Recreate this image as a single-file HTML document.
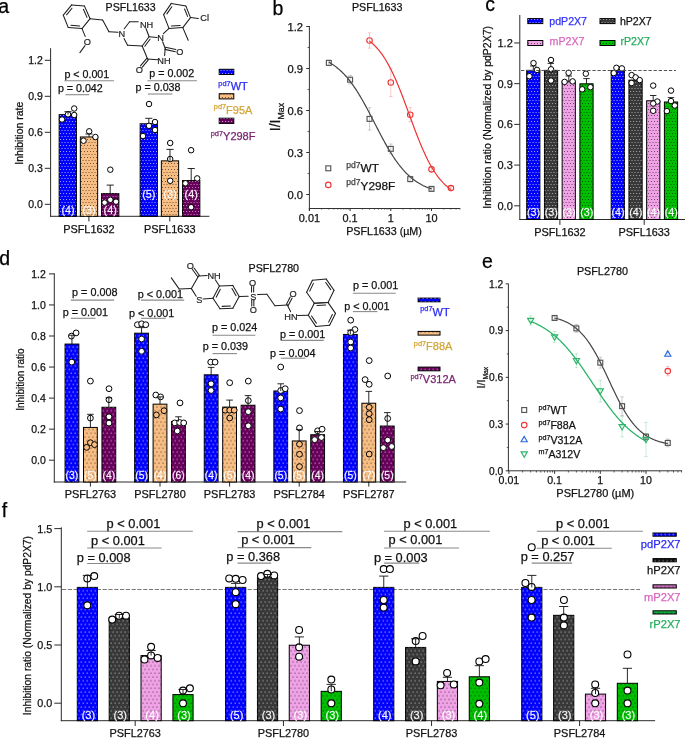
<!DOCTYPE html>
<html><head><meta charset="utf-8"><title>Figure</title>
<style>html,body{margin:0;padding:0;background:#fff;width:685px;height:738px;overflow:hidden}svg{display:block;will-change:transform}text{font-family:"Liberation Sans", sans-serif;paint-order:stroke}</style>
</head><body>
<svg width="685" height="738" viewBox="0 0 685 738" font-family='"Liberation Sans", sans-serif'>
<rect width="685" height="738" fill="#fff"/>
<defs>
<pattern id="pw" width="3" height="6" patternUnits="userSpaceOnUse"><rect x="0" y="1" width="1.1" height="1.0" fill="#fff" fill-opacity="0.6"/><rect x="1.5" y="4" width="1.1" height="1.0" fill="#fff" fill-opacity="0.6"/></pattern>
<pattern id="pw2" width="3" height="6" patternUnits="userSpaceOnUse"><rect x="0" y="1" width="1.1" height="1.0" fill="#e0e0e0" fill-opacity="0.6"/><rect x="1.5" y="4" width="1.1" height="1.0" fill="#e0e0e0" fill-opacity="0.6"/></pattern>
<pattern id="pp" width="3" height="6" patternUnits="userSpaceOnUse"><rect x="0" y="1" width="1.1" height="1.0" fill="#f4d4f0" fill-opacity="0.6"/><rect x="1.5" y="4" width="1.1" height="1.0" fill="#f4d4f0" fill-opacity="0.6"/></pattern>
<pattern id="pk" width="3" height="6" patternUnits="userSpaceOnUse"><rect x="0" y="1" width="1.0" height="1.0" fill="#000" fill-opacity="0.55"/><rect x="1.5" y="4" width="1.0" height="1.0" fill="#000" fill-opacity="0.55"/></pattern>
<pattern id="pw4" width="4" height="7.5" patternUnits="userSpaceOnUse"><rect x="0.5" y="1.5" width="1.6" height="1.0" fill="#fff" fill-opacity="0.6"/><rect x="2.5" y="5.25" width="1.6" height="1.0" fill="#fff" fill-opacity="0.6"/></pattern>
<pattern id="pg4" width="4" height="7.5" patternUnits="userSpaceOnUse"><rect x="0.5" y="1.5" width="1.3" height="1.0" fill="#e0e0e0" fill-opacity="0.65"/><rect x="2.5" y="5.25" width="1.3" height="1.0" fill="#e0e0e0" fill-opacity="0.65"/></pattern>
<pattern id="pp4" width="4" height="7.5" patternUnits="userSpaceOnUse"><rect x="0.5" y="1.5" width="1.5" height="1.0" fill="#f4d4f0" fill-opacity="0.6"/><rect x="2.5" y="5.25" width="1.5" height="1.0" fill="#f4d4f0" fill-opacity="0.6"/></pattern>
<pattern id="pk4" width="4" height="7.5" patternUnits="userSpaceOnUse"><rect x="0.5" y="1.5" width="1.0" height="1.0" fill="#000" fill-opacity="0.7"/><rect x="2.5" y="5.25" width="1.0" height="1.0" fill="#000" fill-opacity="0.7"/></pattern>
</defs>
<text x="-1.80" y="12.80" font-size="19.5" text-anchor="start" fill="#000"  stroke="#000" stroke-width="0.25">a</text>
<line x1="50.60" y1="48.20" x2="50.60" y2="216.80" stroke="#2a2a2a" stroke-width="1" />
<line x1="50.10" y1="216.30" x2="209.40" y2="216.30" stroke="#2a2a2a" stroke-width="1" />
<line x1="44.80" y1="204.30" x2="50.60" y2="204.30" stroke="#2a2a2a" stroke-width="1" />
<text x="42.90" y="208.10" font-size="10.5" text-anchor="end" fill="#111"  stroke="#111" stroke-width="0.25">0.0</text>
<line x1="44.80" y1="168.30" x2="50.60" y2="168.30" stroke="#2a2a2a" stroke-width="1" />
<text x="42.90" y="172.10" font-size="10.5" text-anchor="end" fill="#111"  stroke="#111" stroke-width="0.25">0.3</text>
<line x1="44.80" y1="132.30" x2="50.60" y2="132.30" stroke="#2a2a2a" stroke-width="1" />
<text x="42.90" y="136.10" font-size="10.5" text-anchor="end" fill="#111"  stroke="#111" stroke-width="0.25">0.6</text>
<line x1="44.80" y1="96.30" x2="50.60" y2="96.30" stroke="#2a2a2a" stroke-width="1" />
<text x="42.90" y="100.10" font-size="10.5" text-anchor="end" fill="#111"  stroke="#111" stroke-width="0.25">0.9</text>
<line x1="44.80" y1="60.30" x2="50.60" y2="60.30" stroke="#2a2a2a" stroke-width="1" />
<text x="42.90" y="64.10" font-size="10.5" text-anchor="end" fill="#111"  stroke="#111" stroke-width="0.25">1.2</text>
<line x1="88.90" y1="216.30" x2="88.90" y2="221.40" stroke="#2a2a2a" stroke-width="1" />
<text x="88.90" y="233.30" font-size="10.9" text-anchor="middle" fill="#111"  stroke="#111" stroke-width="0.25">PSFL1632</text>
<line x1="169.80" y1="216.30" x2="169.80" y2="221.40" stroke="#2a2a2a" stroke-width="1" />
<text x="169.80" y="233.30" font-size="10.9" text-anchor="middle" fill="#111"  stroke="#111" stroke-width="0.25">PSFL1633</text>
<text transform="translate(22.60,133.20) rotate(-90)" font-size="10.5" text-anchor="middle" fill="#111" stroke="#111" stroke-width="0.25">Inhibition rate</text>
<rect x="59.15" y="114.66" width="17.30" height="101.64" fill="#0000ff" stroke="#000" stroke-width="1.0"/>
<rect x="59.15" y="114.66" width="17.30" height="101.64" fill="url(#pw)"/>
<rect x="80.35" y="136.98" width="17.30" height="79.32" fill="#f8bd82" stroke="#000" stroke-width="1.0"/>
<rect x="80.35" y="136.98" width="17.30" height="79.32" fill="url(#pk)"/>
<rect x="101.55" y="193.62" width="17.30" height="22.68" fill="#66005a" stroke="#000" stroke-width="1.0"/>
<rect x="101.55" y="193.62" width="17.30" height="22.68" fill="url(#pp)"/>
<rect x="140.15" y="123.78" width="17.30" height="92.52" fill="#0000ff" stroke="#000" stroke-width="1.0"/>
<rect x="140.15" y="123.78" width="17.30" height="92.52" fill="url(#pw)"/>
<rect x="161.35" y="160.86" width="17.30" height="55.44" fill="#f8bd82" stroke="#000" stroke-width="1.0"/>
<rect x="161.35" y="160.86" width="17.30" height="55.44" fill="url(#pk)"/>
<rect x="182.55" y="180.54" width="17.30" height="35.76" fill="#66005a" stroke="#000" stroke-width="1.0"/>
<rect x="182.55" y="180.54" width="17.30" height="35.76" fill="url(#pp)"/>
<circle cx="74.20" cy="108.50" r="2.75" fill="#fff" stroke="#000" stroke-width="1.0"/>
<circle cx="68.00" cy="114.30" r="2.75" fill="#fff" stroke="#000" stroke-width="1.0"/>
<circle cx="74.20" cy="115.00" r="2.75" fill="#fff" stroke="#000" stroke-width="1.0"/>
<circle cx="62.00" cy="119.50" r="2.75" fill="#fff" stroke="#000" stroke-width="1.0"/>
<circle cx="89.20" cy="131.30" r="2.75" fill="#fff" stroke="#000" stroke-width="1.0"/>
<circle cx="95.40" cy="137.00" r="2.75" fill="#fff" stroke="#000" stroke-width="1.0"/>
<circle cx="83.50" cy="140.70" r="2.75" fill="#fff" stroke="#000" stroke-width="1.0"/>
<circle cx="110.30" cy="169.70" r="2.75" fill="#fff" stroke="#000" stroke-width="1.0"/>
<circle cx="104.60" cy="202.60" r="2.75" fill="#fff" stroke="#000" stroke-width="1.0"/>
<circle cx="110.30" cy="199.80" r="2.75" fill="#fff" stroke="#000" stroke-width="1.0"/>
<circle cx="116.00" cy="201.70" r="2.75" fill="#fff" stroke="#000" stroke-width="1.0"/>
<circle cx="149.00" cy="104.00" r="2.75" fill="#fff" stroke="#000" stroke-width="1.0"/>
<circle cx="155.00" cy="122.00" r="2.75" fill="#fff" stroke="#000" stroke-width="1.0"/>
<circle cx="149.00" cy="125.80" r="2.75" fill="#fff" stroke="#000" stroke-width="1.0"/>
<circle cx="155.00" cy="130.00" r="2.75" fill="#fff" stroke="#000" stroke-width="1.0"/>
<circle cx="143.00" cy="136.00" r="2.75" fill="#fff" stroke="#000" stroke-width="1.0"/>
<circle cx="170.20" cy="143.00" r="2.75" fill="#fff" stroke="#000" stroke-width="1.0"/>
<circle cx="170.20" cy="159.00" r="2.75" fill="#fff" stroke="#000" stroke-width="1.0"/>
<circle cx="170.20" cy="180.80" r="2.75" fill="#fff" stroke="#000" stroke-width="1.0"/>
<circle cx="191.10" cy="150.20" r="2.75" fill="#fff" stroke="#000" stroke-width="1.0"/>
<circle cx="197.20" cy="178.40" r="2.75" fill="#fff" stroke="#000" stroke-width="1.0"/>
<circle cx="185.40" cy="183.30" r="2.75" fill="#fff" stroke="#000" stroke-width="1.0"/>
<circle cx="191.10" cy="207.20" r="2.75" fill="#fff" stroke="#000" stroke-width="1.0"/>
<line x1="68.00" y1="114.70" x2="68.00" y2="111.70" stroke="#111" stroke-width="0.9" />
<line x1="64.40" y1="111.70" x2="71.60" y2="111.70" stroke="#111" stroke-width="0.9" />
<line x1="89.00" y1="137.00" x2="89.00" y2="134.00" stroke="#111" stroke-width="0.9" />
<line x1="85.40" y1="134.00" x2="92.60" y2="134.00" stroke="#111" stroke-width="0.9" />
<line x1="110.20" y1="193.60" x2="110.20" y2="185.10" stroke="#111" stroke-width="0.9" />
<line x1="106.60" y1="185.10" x2="113.80" y2="185.10" stroke="#111" stroke-width="0.9" />
<line x1="148.80" y1="123.80" x2="148.80" y2="118.30" stroke="#111" stroke-width="0.9" />
<line x1="145.20" y1="118.30" x2="152.40" y2="118.30" stroke="#111" stroke-width="0.9" />
<line x1="170.00" y1="160.90" x2="170.00" y2="149.40" stroke="#111" stroke-width="0.9" />
<line x1="166.40" y1="149.40" x2="173.60" y2="149.40" stroke="#111" stroke-width="0.9" />
<line x1="191.20" y1="180.60" x2="191.20" y2="168.50" stroke="#111" stroke-width="0.9" />
<line x1="187.60" y1="168.50" x2="194.80" y2="168.50" stroke="#111" stroke-width="0.9" />
<text x="68.00" y="213.50" font-size="10.8" text-anchor="middle" fill="#fff" fill-opacity="0.95" stroke="#fff" stroke-width="0.3" stroke-opacity="0.6">(4)</text>
<text x="89.00" y="213.50" font-size="10.8" text-anchor="middle" fill="#fff" fill-opacity="0.95" stroke="#fff" stroke-width="0.3" stroke-opacity="0.6">(3)</text>
<text x="110.20" y="213.50" font-size="10.8" text-anchor="middle" fill="#fff" fill-opacity="0.95" stroke="#fff" stroke-width="0.3" stroke-opacity="0.6">(4)</text>
<text x="148.80" y="197.90" font-size="10.8" text-anchor="middle" fill="#fff" fill-opacity="0.95" stroke="#fff" stroke-width="0.3" stroke-opacity="0.6">(5)</text>
<text x="170.00" y="197.90" font-size="10.8" text-anchor="middle" fill="#fff" fill-opacity="0.95" stroke="#fff" stroke-width="0.3" stroke-opacity="0.6">(3)</text>
<text x="191.20" y="197.90" font-size="10.8" text-anchor="middle" fill="#fff" fill-opacity="0.95" stroke="#fff" stroke-width="0.3" stroke-opacity="0.6">(4)</text>
<line x1="64.40" y1="80.80" x2="114.00" y2="80.80" stroke="#8a8a8a" stroke-width="1.1" />
<text x="64.40" y="77.80" font-size="10.7" text-anchor="start" fill="#111"  stroke="#111" stroke-width="0.25">p &lt; 0.001</text>
<line x1="65.40" y1="94.70" x2="89.20" y2="94.70" stroke="#8a8a8a" stroke-width="1.1" />
<text x="57.90" y="92.20" font-size="10.7" text-anchor="start" fill="#111"  stroke="#111" stroke-width="0.25">p = 0.042</text>
<line x1="147.50" y1="80.80" x2="196.90" y2="80.80" stroke="#8a8a8a" stroke-width="1.1" />
<text x="149.30" y="76.80" font-size="10.7" text-anchor="start" fill="#111"  stroke="#111" stroke-width="0.25">p = 0.002</text>
<line x1="148.00" y1="94.00" x2="172.40" y2="94.00" stroke="#8a8a8a" stroke-width="1.1" />
<text x="135.60" y="91.00" font-size="10.7" text-anchor="start" fill="#111"  stroke="#111" stroke-width="0.25">p = 0.038</text>
<rect x="219.2" y="69.3" width="14.6" height="5.2" fill="#0000ff" stroke="#000" stroke-width="1"/><rect x="219.2" y="69.3" width="14.6" height="5.2" fill="url(#pw)"/>
<rect x="219.2" y="93.7" width="14.6" height="5.2" fill="#f8bd82" stroke="#000" stroke-width="1"/><rect x="219.2" y="93.7" width="14.6" height="5.2" fill="url(#pk)"/>
<rect x="219.2" y="118.2" width="14.6" height="5.2" fill="#66005a" stroke="#000" stroke-width="1"/><rect x="219.2" y="118.2" width="14.6" height="5.2" fill="url(#pw)"/>
<text x="233.10" y="89.70" text-anchor="middle" fill="#2a2af8" stroke="#2a2af8" stroke-width="0.25" font-size="11"><tspan font-size="7.4" dy="-4.2">pd7</tspan><tspan dy="4.2">WT</tspan></text>
<text x="233.10" y="113.50" text-anchor="middle" fill="#d2a535" stroke="#d2a535" stroke-width="0.25" font-size="11"><tspan font-size="7.4" dy="-4.2">pd7</tspan><tspan dy="4.2">F95A</tspan></text>
<text x="233.10" y="140.40" text-anchor="middle" fill="#7a2470" stroke="#7a2470" stroke-width="0.25" font-size="11"><tspan font-size="7.4" dy="-4.2">pd7</tspan><tspan dy="4.2">Y298F</tspan></text>
<text x="105.60" y="11.00" font-size="10.6" text-anchor="start" fill="#111"  stroke="#111" stroke-width="0.25">PSFL1633</text>
<text x="272.50" y="14.90" font-size="19.5" text-anchor="start" fill="#000"  stroke="#000" stroke-width="0.25">b</text>
<text x="377.20" y="10.80" font-size="10.7" text-anchor="middle" fill="#111"  stroke="#111" stroke-width="0.25">PSFL1633</text>
<line x1="309.40" y1="26.00" x2="309.40" y2="211.00" stroke="#333" stroke-width="1" />
<line x1="308.90" y1="208.50" x2="459.90" y2="208.50" stroke="#333" stroke-width="1" />
<line x1="306.20" y1="194.50" x2="309.40" y2="194.50" stroke="#333" stroke-width="1" />
<text x="303.00" y="198.50" font-size="11.2" text-anchor="end" fill="#111"  stroke="#111" stroke-width="0.25">0.0</text>
<line x1="307.60" y1="173.50" x2="309.40" y2="173.50" stroke="#333" stroke-width="0.8" />
<line x1="306.20" y1="152.50" x2="309.40" y2="152.50" stroke="#333" stroke-width="1" />
<text x="303.00" y="156.50" font-size="11.2" text-anchor="end" fill="#111"  stroke="#111" stroke-width="0.25">0.3</text>
<line x1="307.60" y1="131.50" x2="309.40" y2="131.50" stroke="#333" stroke-width="0.8" />
<line x1="306.20" y1="110.50" x2="309.40" y2="110.50" stroke="#333" stroke-width="1" />
<text x="303.00" y="114.50" font-size="11.2" text-anchor="end" fill="#111"  stroke="#111" stroke-width="0.25">0.6</text>
<line x1="307.60" y1="89.50" x2="309.40" y2="89.50" stroke="#333" stroke-width="0.8" />
<line x1="306.20" y1="68.50" x2="309.40" y2="68.50" stroke="#333" stroke-width="1" />
<text x="303.00" y="72.50" font-size="11.2" text-anchor="end" fill="#111"  stroke="#111" stroke-width="0.25">0.9</text>
<line x1="307.60" y1="47.50" x2="309.40" y2="47.50" stroke="#333" stroke-width="0.8" />
<line x1="306.20" y1="26.50" x2="309.40" y2="26.50" stroke="#333" stroke-width="1" />
<text x="303.00" y="30.50" font-size="11.2" text-anchor="end" fill="#111"  stroke="#111" stroke-width="0.25">1.2</text>
<line x1="309.40" y1="208.00" x2="309.40" y2="211.00" stroke="#333" stroke-width="1" />
<text x="309.40" y="221.80" font-size="10.9" text-anchor="middle" fill="#111"  stroke="#111" stroke-width="0.25">0.01</text>
<line x1="321.65" y1="208.00" x2="321.65" y2="209.60" stroke="#333" stroke-width="0.8" />
<line x1="328.82" y1="208.00" x2="328.82" y2="209.60" stroke="#333" stroke-width="0.8" />
<line x1="333.90" y1="208.00" x2="333.90" y2="209.60" stroke="#333" stroke-width="0.8" />
<line x1="337.85" y1="208.00" x2="337.85" y2="209.60" stroke="#333" stroke-width="0.8" />
<line x1="341.07" y1="208.00" x2="341.07" y2="209.60" stroke="#333" stroke-width="0.8" />
<line x1="343.80" y1="208.00" x2="343.80" y2="209.60" stroke="#333" stroke-width="0.8" />
<line x1="346.16" y1="208.00" x2="346.16" y2="209.60" stroke="#333" stroke-width="0.8" />
<line x1="348.24" y1="208.00" x2="348.24" y2="209.60" stroke="#333" stroke-width="0.8" />
<line x1="350.10" y1="208.00" x2="350.10" y2="211.00" stroke="#333" stroke-width="1" />
<text x="350.10" y="221.80" font-size="10.9" text-anchor="middle" fill="#111"  stroke="#111" stroke-width="0.25">0.1</text>
<line x1="362.35" y1="208.00" x2="362.35" y2="209.60" stroke="#333" stroke-width="0.8" />
<line x1="369.52" y1="208.00" x2="369.52" y2="209.60" stroke="#333" stroke-width="0.8" />
<line x1="374.60" y1="208.00" x2="374.60" y2="209.60" stroke="#333" stroke-width="0.8" />
<line x1="378.55" y1="208.00" x2="378.55" y2="209.60" stroke="#333" stroke-width="0.8" />
<line x1="381.77" y1="208.00" x2="381.77" y2="209.60" stroke="#333" stroke-width="0.8" />
<line x1="384.50" y1="208.00" x2="384.50" y2="209.60" stroke="#333" stroke-width="0.8" />
<line x1="386.86" y1="208.00" x2="386.86" y2="209.60" stroke="#333" stroke-width="0.8" />
<line x1="388.94" y1="208.00" x2="388.94" y2="209.60" stroke="#333" stroke-width="0.8" />
<line x1="390.80" y1="208.00" x2="390.80" y2="211.00" stroke="#333" stroke-width="1" />
<text x="390.80" y="221.80" font-size="10.9" text-anchor="middle" fill="#111"  stroke="#111" stroke-width="0.25">1</text>
<line x1="403.05" y1="208.00" x2="403.05" y2="209.60" stroke="#333" stroke-width="0.8" />
<line x1="410.22" y1="208.00" x2="410.22" y2="209.60" stroke="#333" stroke-width="0.8" />
<line x1="415.30" y1="208.00" x2="415.30" y2="209.60" stroke="#333" stroke-width="0.8" />
<line x1="419.25" y1="208.00" x2="419.25" y2="209.60" stroke="#333" stroke-width="0.8" />
<line x1="422.47" y1="208.00" x2="422.47" y2="209.60" stroke="#333" stroke-width="0.8" />
<line x1="425.20" y1="208.00" x2="425.20" y2="209.60" stroke="#333" stroke-width="0.8" />
<line x1="427.56" y1="208.00" x2="427.56" y2="209.60" stroke="#333" stroke-width="0.8" />
<line x1="429.64" y1="208.00" x2="429.64" y2="209.60" stroke="#333" stroke-width="0.8" />
<line x1="431.50" y1="208.00" x2="431.50" y2="211.00" stroke="#333" stroke-width="1" />
<text x="431.50" y="221.80" font-size="10.9" text-anchor="middle" fill="#111"  stroke="#111" stroke-width="0.25">10</text>
<line x1="443.75" y1="208.00" x2="443.75" y2="209.60" stroke="#333" stroke-width="0.8" />
<line x1="450.92" y1="208.00" x2="450.92" y2="209.60" stroke="#333" stroke-width="0.8" />
<line x1="456.00" y1="208.00" x2="456.00" y2="209.60" stroke="#333" stroke-width="0.8" />
<line x1="459.95" y1="208.00" x2="459.95" y2="209.60" stroke="#333" stroke-width="0.8" />
<text x="384.00" y="234.60" font-size="10.7" text-anchor="middle" fill="#111"  stroke="#111" stroke-width="0.25">PSFL1633 (µM)</text>
<text transform="translate(280.0,131.2) rotate(-90)" font-size="14" fill="#111" stroke="#111" stroke-width="0.25">I/I<tspan font-size="8.8" dy="4.0">Max</tspan></text>
<g stroke="#888" stroke-width="0.7" stroke-opacity="0.6"><line x1="328.82" y1="60.10" x2="328.82" y2="65.70"/><line x1="327.02" y1="60.10" x2="330.62" y2="60.10"/><line x1="327.02" y1="65.70" x2="330.62" y2="65.70"/></g>
<g stroke="#888" stroke-width="0.7" stroke-opacity="0.6"><line x1="350.10" y1="75.50" x2="350.10" y2="83.90"/><line x1="348.30" y1="75.50" x2="351.90" y2="75.50"/><line x1="348.30" y1="83.90" x2="351.90" y2="83.90"/></g>
<g stroke="#888" stroke-width="0.7" stroke-opacity="0.6"><line x1="369.52" y1="107.70" x2="369.52" y2="130.10"/><line x1="367.72" y1="107.70" x2="371.32" y2="107.70"/><line x1="367.72" y1="130.10" x2="371.32" y2="130.10"/></g>
<g stroke="#888" stroke-width="0.7" stroke-opacity="0.6"><line x1="390.80" y1="143.96" x2="390.80" y2="153.76"/><line x1="389.00" y1="143.96" x2="392.60" y2="143.96"/><line x1="389.00" y1="153.76" x2="392.60" y2="153.76"/></g>
<g stroke="#888" stroke-width="0.7" stroke-opacity="0.6"><line x1="410.22" y1="176.30" x2="410.22" y2="181.90"/><line x1="408.42" y1="176.30" x2="412.02" y2="176.30"/><line x1="408.42" y1="181.90" x2="412.02" y2="181.90"/></g>
<g stroke="#888" stroke-width="0.7" stroke-opacity="0.6"><line x1="431.50" y1="187.50" x2="431.50" y2="190.30"/><line x1="429.70" y1="187.50" x2="433.30" y2="187.50"/><line x1="429.70" y1="190.30" x2="433.30" y2="190.30"/></g>
<g stroke="#f08080" stroke-width="0.7" stroke-opacity="0.6"><line x1="369.52" y1="32.80" x2="369.52" y2="48.20"/><line x1="367.72" y1="32.80" x2="371.32" y2="32.80"/><line x1="367.72" y1="48.20" x2="371.32" y2="48.20"/></g>
<g stroke="#f08080" stroke-width="0.7" stroke-opacity="0.6"><line x1="390.80" y1="68.50" x2="390.80" y2="96.50"/><line x1="389.00" y1="68.50" x2="392.60" y2="68.50"/><line x1="389.00" y1="96.50" x2="392.60" y2="96.50"/></g>
<g stroke="#f08080" stroke-width="0.7" stroke-opacity="0.6"><line x1="410.22" y1="107.70" x2="410.22" y2="121.70"/><line x1="408.42" y1="107.70" x2="412.02" y2="107.70"/><line x1="408.42" y1="121.70" x2="412.02" y2="121.70"/></g>
<g stroke="#f08080" stroke-width="0.7" stroke-opacity="0.6"><line x1="431.50" y1="166.50" x2="431.50" y2="172.10"/><line x1="429.70" y1="166.50" x2="433.30" y2="166.50"/><line x1="429.70" y1="172.10" x2="433.30" y2="172.10"/></g>
<g stroke="#f08080" stroke-width="0.7" stroke-opacity="0.6"><line x1="450.92" y1="186.66" x2="450.92" y2="189.46"/><line x1="449.12" y1="186.66" x2="452.72" y2="186.66"/><line x1="449.12" y1="189.46" x2="452.72" y2="189.46"/></g>
<polyline points="328.82,62.14 329.67,62.62 330.53,63.13 331.39,63.66 332.24,64.21 333.10,64.78 333.95,65.37 334.81,65.98 335.66,66.62 336.52,67.28 337.38,67.96 338.23,68.67 339.09,69.40 339.94,70.16 340.80,70.95 341.65,71.76 342.51,72.60 343.37,73.46 344.22,74.36 345.08,75.28 345.93,76.23 346.79,77.21 347.64,78.22 348.50,79.25 349.36,80.32 350.21,81.42 351.07,82.54 351.92,83.70 352.78,84.89 353.63,86.10 354.49,87.34 355.34,88.62 356.20,89.92 357.06,91.25 357.91,92.60 358.77,93.99 359.62,95.39 360.48,96.83 361.33,98.29 362.19,99.77 363.05,101.27 363.90,102.80 364.76,104.34 365.61,105.90 366.47,107.48 367.32,109.08 368.18,110.69 369.04,112.32 369.89,113.95 370.75,115.59 371.60,117.25 372.46,118.91 373.31,120.57 374.17,122.23 375.03,123.90 375.88,125.57 376.74,127.23 377.59,128.89 378.45,130.54 379.30,132.19 380.16,133.82 381.02,135.45 381.87,137.06 382.73,138.65 383.58,140.24 384.44,141.80 385.29,143.35 386.15,144.87 387.00,146.38 387.86,147.86 388.72,149.32 389.57,150.75 390.43,152.16 391.28,153.55 392.14,154.91 392.99,156.24 393.85,157.54 394.71,158.81 395.56,160.06 396.42,161.27 397.27,162.46 398.13,163.62 398.98,164.75 399.84,165.85 400.70,166.91 401.55,167.95 402.41,168.96 403.26,169.95 404.12,170.90 404.97,171.82 405.83,172.72 406.69,173.58 407.54,174.42 408.40,175.24 409.25,176.02 410.11,176.78 410.96,177.52 411.82,178.23 412.68,178.91 413.53,179.57 414.39,180.21 415.24,180.82 416.10,181.42 416.95,181.99 417.81,182.54 418.66,183.07 419.52,183.58 420.38,184.07 421.23,184.54 422.09,184.99 422.94,185.43 423.80,185.84 424.65,186.25 425.51,186.63 426.37,187.00 427.22,187.36 428.08,187.70 428.93,188.03 429.79,188.35 430.64,188.65 431.50,188.94" fill="none" stroke="#444" stroke-width="1.2"/>
<polyline points="369.52,41.09 370.20,41.62 370.88,42.16 371.55,42.73 372.23,43.31 372.91,43.92 373.59,44.55 374.27,45.20 374.95,45.87 375.62,46.57 376.30,47.28 376.98,48.03 377.66,48.80 378.34,49.59 379.02,50.41 379.69,51.26 380.37,52.13 381.05,53.03 381.73,53.96 382.41,54.91 383.09,55.90 383.76,56.91 384.44,57.96 385.12,59.03 385.80,60.13 386.48,61.26 387.16,62.43 387.83,63.62 388.51,64.84 389.19,66.10 389.87,67.38 390.55,68.70 391.23,70.04 391.90,71.42 392.58,72.82 393.26,74.25 393.94,75.72 394.62,77.21 395.30,78.73 395.97,80.27 396.65,81.84 397.33,83.44 398.01,85.07 398.69,86.71 399.37,88.38 400.04,90.07 400.72,91.78 401.40,93.52 402.08,95.26 402.76,97.03 403.44,98.81 404.11,100.61 404.79,102.42 405.47,104.23 406.15,106.06 406.83,107.90 407.51,109.74 408.18,111.59 408.86,113.44 409.54,115.29 410.22,117.13 410.90,118.98 411.58,120.83 412.25,122.66 412.93,124.49 413.61,126.31 414.29,128.12 414.97,129.92 415.65,131.71 416.32,133.48 417.00,135.23 417.68,136.97 418.36,138.69 419.04,140.38 419.72,142.06 420.39,143.71 421.07,145.34 421.75,146.94 422.43,148.52 423.11,150.07 423.79,151.60 424.46,153.10 425.14,154.57 425.82,156.01 426.50,157.42 427.18,158.80 427.86,160.16 428.53,161.48 429.21,162.77 429.89,164.03 430.57,165.26 431.25,166.46 431.93,167.63 432.60,168.78 433.28,169.89 433.96,170.97 434.64,172.02 435.32,173.04 436.00,174.03 436.67,174.99 437.35,175.93 438.03,176.84 438.71,177.72 439.39,178.57 440.07,179.39 440.74,180.19 441.42,180.97 442.10,181.72 442.78,182.44 443.46,183.15 444.14,183.82 444.81,184.48 445.49,185.11 446.17,185.72 446.85,186.31 447.53,186.88 448.21,187.43 448.88,187.96 449.56,188.48 450.24,188.97 450.92,189.44" fill="none" stroke="#ee3333" stroke-width="1.2"/>
<rect x="326.37" y="60.45" width="4.9" height="4.9" fill="none" stroke="#555" stroke-width="1.15"/>
<rect x="347.65" y="77.25" width="4.9" height="4.9" fill="none" stroke="#555" stroke-width="1.15"/>
<rect x="367.07" y="116.45" width="4.9" height="4.9" fill="none" stroke="#555" stroke-width="1.15"/>
<rect x="388.35" y="146.41" width="4.9" height="4.9" fill="none" stroke="#555" stroke-width="1.15"/>
<rect x="407.77" y="176.65" width="4.9" height="4.9" fill="none" stroke="#555" stroke-width="1.15"/>
<rect x="429.05" y="186.45" width="4.9" height="4.9" fill="none" stroke="#555" stroke-width="1.15"/>
<circle cx="369.52" cy="40.50" r="2.75" fill="none" stroke="#ee3535" stroke-width="1.15"/>
<circle cx="390.80" cy="82.50" r="2.75" fill="none" stroke="#ee3535" stroke-width="1.15"/>
<circle cx="410.22" cy="114.70" r="2.75" fill="none" stroke="#ee3535" stroke-width="1.15"/>
<circle cx="431.50" cy="169.30" r="2.75" fill="none" stroke="#ee3535" stroke-width="1.15"/>
<circle cx="450.92" cy="188.06" r="2.75" fill="none" stroke="#ee3535" stroke-width="1.15"/>
<rect x="325.85" y="165.85" width="4.9" height="4.9" fill="none" stroke="#555" stroke-width="1.15"/>
<circle cx="328.30" cy="184.90" r="2.75" fill="none" stroke="#ee3535" stroke-width="1.15"/>
<text x="346.2" y="172.4" font-size="11.8" fill="#111" stroke="#111" stroke-width="0.25"><tspan font-size="8.6" dy="-4.6" fill="#444" stroke="#444">pd7</tspan><tspan dy="4.6">WT</tspan></text>
<text x="346.2" y="190.0" font-size="11.8" fill="#111" stroke="#111" stroke-width="0.25"><tspan font-size="8.6" dy="-4.6" fill="#444" stroke="#444">pd7</tspan><tspan dy="4.6">Y298F</tspan></text>
<text x="485.30" y="10.50" font-size="19.5" text-anchor="start" fill="#000"  stroke="#000" stroke-width="0.25">c</text>
<line x1="519.80" y1="15.00" x2="519.80" y2="219.60" stroke="#2a2a2a" stroke-width="1" />
<line x1="519.30" y1="219.50" x2="685.00" y2="219.50" stroke="#2a2a2a" stroke-width="1" />
<line x1="514.20" y1="205.80" x2="519.80" y2="205.80" stroke="#2a2a2a" stroke-width="1" />
<text x="512.80" y="209.70" font-size="11" text-anchor="end" fill="#111"  stroke="#111" stroke-width="0.25">0.0</text>
<line x1="514.20" y1="165.09" x2="519.80" y2="165.09" stroke="#2a2a2a" stroke-width="1" />
<text x="512.80" y="168.99" font-size="11" text-anchor="end" fill="#111"  stroke="#111" stroke-width="0.25">0.3</text>
<line x1="514.20" y1="124.38" x2="519.80" y2="124.38" stroke="#2a2a2a" stroke-width="1" />
<text x="512.80" y="128.28" font-size="11" text-anchor="end" fill="#111"  stroke="#111" stroke-width="0.25">0.6</text>
<line x1="514.20" y1="83.67" x2="519.80" y2="83.67" stroke="#2a2a2a" stroke-width="1" />
<text x="512.80" y="87.57" font-size="11" text-anchor="end" fill="#111"  stroke="#111" stroke-width="0.25">0.9</text>
<line x1="514.20" y1="42.96" x2="519.80" y2="42.96" stroke="#2a2a2a" stroke-width="1" />
<text x="512.80" y="46.86" font-size="11" text-anchor="end" fill="#111"  stroke="#111" stroke-width="0.25">1.2</text>
<line x1="559.90" y1="219.50" x2="559.90" y2="224.90" stroke="#2a2a2a" stroke-width="1" />
<text x="559.90" y="236.30" font-size="10.9" text-anchor="middle" fill="#111"  stroke="#111" stroke-width="0.25">PSFL1632</text>
<line x1="644.20" y1="219.50" x2="644.20" y2="224.90" stroke="#2a2a2a" stroke-width="1" />
<text x="644.20" y="236.30" font-size="10.9" text-anchor="middle" fill="#111"  stroke="#111" stroke-width="0.25">PSFL1633</text>
<text transform="translate(491.20,117.30) rotate(-90)" font-size="10.5" text-anchor="middle" fill="#111" stroke="#111" stroke-width="0.25">Inhibition ratio (Normalized by pdP2X7)</text>
<rect x="526.70" y="70.37" width="13.20" height="149.13" fill="#0000ff" stroke="#000" stroke-width="1.0"/>
<rect x="526.70" y="70.37" width="13.20" height="149.13" fill="url(#pw)"/>
<rect x="544.45" y="70.37" width="13.20" height="149.13" fill="#383838" stroke="#000" stroke-width="1.0"/>
<rect x="544.45" y="70.37" width="13.20" height="149.13" fill="url(#pw2)"/>
<rect x="562.15" y="81.23" width="13.20" height="138.27" fill="#f0a2e6" stroke="#000" stroke-width="1.0"/>
<rect x="562.15" y="81.23" width="13.20" height="138.27" fill="url(#pk)"/>
<rect x="579.90" y="83.81" width="13.20" height="135.69" fill="#00bf00" stroke="#000" stroke-width="1.0"/>
<rect x="579.90" y="83.81" width="13.20" height="135.69" fill="url(#pk)"/>
<rect x="611.20" y="70.51" width="13.20" height="148.99" fill="#0000ff" stroke="#000" stroke-width="1.0"/>
<rect x="611.20" y="70.51" width="13.20" height="148.99" fill="url(#pw)"/>
<rect x="628.95" y="80.14" width="13.20" height="139.36" fill="#383838" stroke="#000" stroke-width="1.0"/>
<rect x="628.95" y="80.14" width="13.20" height="139.36" fill="url(#pw2)"/>
<rect x="646.65" y="100.77" width="13.20" height="118.73" fill="#f0a2e6" stroke="#000" stroke-width="1.0"/>
<rect x="646.65" y="100.77" width="13.20" height="118.73" fill="url(#pk)"/>
<rect x="664.40" y="101.99" width="13.20" height="117.51" fill="#00bf00" stroke="#000" stroke-width="1.0"/>
<rect x="664.40" y="101.99" width="13.20" height="117.51" fill="url(#pk)"/>
<line x1="533.30" y1="70.30" x2="533.30" y2="66.00" stroke="#111" stroke-width="0.9" />
<line x1="530.10" y1="66.00" x2="536.50" y2="66.00" stroke="#111" stroke-width="0.9" />
<line x1="550.80" y1="70.30" x2="550.80" y2="63.40" stroke="#111" stroke-width="0.9" />
<line x1="547.60" y1="63.40" x2="554.00" y2="63.40" stroke="#111" stroke-width="0.9" />
<line x1="568.80" y1="81.20" x2="568.80" y2="76.00" stroke="#111" stroke-width="0.9" />
<line x1="565.60" y1="76.00" x2="572.00" y2="76.00" stroke="#111" stroke-width="0.9" />
<line x1="586.50" y1="83.80" x2="586.50" y2="78.60" stroke="#111" stroke-width="0.9" />
<line x1="583.30" y1="78.60" x2="589.70" y2="78.60" stroke="#111" stroke-width="0.9" />
<line x1="617.80" y1="70.50" x2="617.80" y2="67.00" stroke="#111" stroke-width="0.9" />
<line x1="614.60" y1="67.00" x2="621.00" y2="67.00" stroke="#111" stroke-width="0.9" />
<line x1="635.50" y1="80.20" x2="635.50" y2="76.50" stroke="#111" stroke-width="0.9" />
<line x1="632.30" y1="76.50" x2="638.70" y2="76.50" stroke="#111" stroke-width="0.9" />
<line x1="653.20" y1="100.80" x2="653.20" y2="95.50" stroke="#111" stroke-width="0.9" />
<line x1="650.00" y1="95.50" x2="656.40" y2="95.50" stroke="#111" stroke-width="0.9" />
<line x1="671.00" y1="102.00" x2="671.00" y2="97.60" stroke="#111" stroke-width="0.9" />
<line x1="667.80" y1="97.60" x2="674.20" y2="97.60" stroke="#111" stroke-width="0.9" />
<circle cx="533.50" cy="63.10" r="2.75" fill="#fff" stroke="#000" stroke-width="1.0"/>
<circle cx="537.00" cy="69.90" r="2.75" fill="#fff" stroke="#000" stroke-width="1.0"/>
<circle cx="529.40" cy="76.20" r="2.75" fill="#fff" stroke="#000" stroke-width="1.0"/>
<circle cx="551.00" cy="60.00" r="2.75" fill="#fff" stroke="#000" stroke-width="1.0"/>
<circle cx="551.00" cy="69.30" r="2.75" fill="#fff" stroke="#000" stroke-width="1.0"/>
<circle cx="551.00" cy="80.60" r="2.75" fill="#fff" stroke="#000" stroke-width="1.0"/>
<circle cx="568.60" cy="72.80" r="2.75" fill="#fff" stroke="#000" stroke-width="1.0"/>
<circle cx="564.60" cy="81.90" r="2.75" fill="#fff" stroke="#000" stroke-width="1.0"/>
<circle cx="572.60" cy="81.40" r="2.75" fill="#fff" stroke="#000" stroke-width="1.0"/>
<circle cx="585.80" cy="73.70" r="2.75" fill="#fff" stroke="#000" stroke-width="1.0"/>
<circle cx="582.20" cy="89.30" r="2.75" fill="#fff" stroke="#000" stroke-width="1.0"/>
<circle cx="590.40" cy="87.20" r="2.75" fill="#fff" stroke="#000" stroke-width="1.0"/>
<circle cx="616.40" cy="67.80" r="2.75" fill="#fff" stroke="#000" stroke-width="1.0"/>
<circle cx="621.90" cy="68.40" r="2.75" fill="#fff" stroke="#000" stroke-width="1.0"/>
<circle cx="613.80" cy="73.10" r="2.75" fill="#fff" stroke="#000" stroke-width="1.0"/>
<circle cx="631.60" cy="75.10" r="2.75" fill="#fff" stroke="#000" stroke-width="1.0"/>
<circle cx="635.60" cy="77.40" r="2.75" fill="#fff" stroke="#000" stroke-width="1.0"/>
<circle cx="639.70" cy="80.10" r="2.75" fill="#fff" stroke="#000" stroke-width="1.0"/>
<circle cx="631.60" cy="83.00" r="2.75" fill="#fff" stroke="#000" stroke-width="1.0"/>
<circle cx="653.20" cy="85.60" r="2.75" fill="#fff" stroke="#000" stroke-width="1.0"/>
<circle cx="657.30" cy="101.50" r="2.75" fill="#fff" stroke="#000" stroke-width="1.0"/>
<circle cx="653.20" cy="103.50" r="2.75" fill="#fff" stroke="#000" stroke-width="1.0"/>
<circle cx="653.20" cy="110.80" r="2.75" fill="#fff" stroke="#000" stroke-width="1.0"/>
<circle cx="671.00" cy="90.60" r="2.75" fill="#fff" stroke="#000" stroke-width="1.0"/>
<circle cx="671.00" cy="101.10" r="2.75" fill="#fff" stroke="#000" stroke-width="1.0"/>
<circle cx="674.80" cy="105.50" r="2.75" fill="#fff" stroke="#000" stroke-width="1.0"/>
<circle cx="666.90" cy="111.10" r="2.75" fill="#fff" stroke="#000" stroke-width="1.0"/>
<line x1="521" y1="70.5" x2="676" y2="70.5" stroke="#555" stroke-width="1" stroke-dasharray="3.3,1.8"/>
<text x="533.60" y="216.20" font-size="10.8" text-anchor="middle" fill="#fff" fill-opacity="0.95" stroke="#fff" stroke-width="0.3" stroke-opacity="0.6">(3)</text>
<text x="551.35" y="216.20" font-size="10.8" text-anchor="middle" fill="#fff" fill-opacity="0.95" stroke="#fff" stroke-width="0.3" stroke-opacity="0.6">(3)</text>
<text x="569.05" y="216.20" font-size="10.8" text-anchor="middle" fill="#fff" fill-opacity="0.95" stroke="#fff" stroke-width="0.3" stroke-opacity="0.6">(3)</text>
<text x="586.80" y="216.20" font-size="10.8" text-anchor="middle" fill="#fff" fill-opacity="0.95" stroke="#fff" stroke-width="0.3" stroke-opacity="0.6">(3)</text>
<text x="618.10" y="216.20" font-size="10.8" text-anchor="middle" fill="#fff" fill-opacity="0.95" stroke="#fff" stroke-width="0.3" stroke-opacity="0.6">(4)</text>
<text x="635.85" y="216.20" font-size="10.8" text-anchor="middle" fill="#fff" fill-opacity="0.95" stroke="#fff" stroke-width="0.3" stroke-opacity="0.6">(4)</text>
<text x="653.55" y="216.20" font-size="10.8" text-anchor="middle" fill="#fff" fill-opacity="0.95" stroke="#fff" stroke-width="0.3" stroke-opacity="0.6">(4)</text>
<text x="671.30" y="216.20" font-size="10.8" text-anchor="middle" fill="#fff" fill-opacity="0.95" stroke="#fff" stroke-width="0.3" stroke-opacity="0.6">(4)</text>
<rect x="527.8" y="18.6" width="15" height="5" fill="#0000ff" stroke="#000" stroke-width="1"/><rect x="527.8" y="18.6" width="15" height="5" fill="url(#pw)"/>
<rect x="600.0" y="18.6" width="15" height="5" fill="#383838" stroke="#000" stroke-width="1"/><rect x="600.0" y="18.6" width="15" height="5" fill="url(#pw2)"/>
<rect x="527.8" y="40.5" width="15" height="5" fill="#f0a2e6" stroke="#000" stroke-width="1"/><rect x="527.8" y="40.5" width="15" height="5" fill="url(#pk)"/>
<rect x="600.0" y="40.5" width="15" height="5" fill="#00bf00" stroke="#000" stroke-width="1"/><rect x="600.0" y="40.5" width="15" height="5" fill="url(#pk)"/>
<text x="549.30" y="24.60" font-size="10.6" text-anchor="start" fill="#3232fa"  stroke="#3232fa" stroke-width="0.25">pdP2X7</text>
<text x="619.90" y="24.60" font-size="10.6" text-anchor="start" fill="#111"  stroke="#111" stroke-width="0.25">hP2X7</text>
<text x="549.60" y="45.20" font-size="10.6" text-anchor="start" fill="#d865bd"  stroke="#d865bd" stroke-width="0.25">mP2X7</text>
<text x="620.40" y="45.20" font-size="10.6" text-anchor="start" fill="#22ad5c"  stroke="#22ad5c" stroke-width="0.25">rP2X7</text>
<text x="-0.80" y="265.00" font-size="19.5" text-anchor="start" fill="#000"  stroke="#000" stroke-width="0.25">d</text>
<line x1="54.30" y1="273.30" x2="54.30" y2="482.50" stroke="#2a2a2a" stroke-width="1" />
<line x1="53.80" y1="482.00" x2="406.20" y2="482.00" stroke="#2a2a2a" stroke-width="1" />
<line x1="49.00" y1="460.20" x2="54.30" y2="460.20" stroke="#2a2a2a" stroke-width="1" />
<text x="45.90" y="463.90" font-size="10.5" text-anchor="end" fill="#111"  stroke="#111" stroke-width="0.25">0.0</text>
<line x1="49.00" y1="429.15" x2="54.30" y2="429.15" stroke="#2a2a2a" stroke-width="1" />
<text x="45.90" y="432.85" font-size="10.5" text-anchor="end" fill="#111"  stroke="#111" stroke-width="0.25">0.2</text>
<line x1="49.00" y1="398.10" x2="54.30" y2="398.10" stroke="#2a2a2a" stroke-width="1" />
<text x="45.90" y="401.80" font-size="10.5" text-anchor="end" fill="#111"  stroke="#111" stroke-width="0.25">0.4</text>
<line x1="49.00" y1="367.05" x2="54.30" y2="367.05" stroke="#2a2a2a" stroke-width="1" />
<text x="45.90" y="370.75" font-size="10.5" text-anchor="end" fill="#111"  stroke="#111" stroke-width="0.25">0.6</text>
<line x1="49.00" y1="336.00" x2="54.30" y2="336.00" stroke="#2a2a2a" stroke-width="1" />
<text x="45.90" y="339.70" font-size="10.5" text-anchor="end" fill="#111"  stroke="#111" stroke-width="0.25">0.8</text>
<line x1="49.00" y1="304.95" x2="54.30" y2="304.95" stroke="#2a2a2a" stroke-width="1" />
<text x="45.90" y="308.65" font-size="10.5" text-anchor="end" fill="#111"  stroke="#111" stroke-width="0.25">1.0</text>
<line x1="49.00" y1="273.90" x2="54.30" y2="273.90" stroke="#2a2a2a" stroke-width="1" />
<text x="45.90" y="277.60" font-size="10.5" text-anchor="end" fill="#111"  stroke="#111" stroke-width="0.25">1.2</text>
<line x1="90.40" y1="482.00" x2="90.40" y2="486.60" stroke="#2a2a2a" stroke-width="1" />
<text x="90.40" y="497.80" font-size="10.9" text-anchor="middle" fill="#111"  stroke="#111" stroke-width="0.25">PSFL2763</text>
<line x1="160.00" y1="482.00" x2="160.00" y2="486.60" stroke="#2a2a2a" stroke-width="1" />
<text x="160.00" y="497.80" font-size="10.9" text-anchor="middle" fill="#111"  stroke="#111" stroke-width="0.25">PSFL2780</text>
<line x1="229.60" y1="482.00" x2="229.60" y2="486.60" stroke="#2a2a2a" stroke-width="1" />
<text x="229.60" y="497.80" font-size="10.9" text-anchor="middle" fill="#111"  stroke="#111" stroke-width="0.25">PSFL2783</text>
<line x1="299.20" y1="482.00" x2="299.20" y2="486.60" stroke="#2a2a2a" stroke-width="1" />
<text x="299.20" y="497.80" font-size="10.9" text-anchor="middle" fill="#111"  stroke="#111" stroke-width="0.25">PSFL2784</text>
<line x1="368.80" y1="482.00" x2="368.80" y2="486.60" stroke="#2a2a2a" stroke-width="1" />
<text x="368.80" y="497.80" font-size="10.9" text-anchor="middle" fill="#111"  stroke="#111" stroke-width="0.25">PSFL2787</text>
<text transform="translate(23.60,379.60) rotate(-90)" font-size="10.0" text-anchor="middle" fill="#111" stroke="#111" stroke-width="0.25">Inhibition ratio</text>
<rect x="65.05" y="344.07" width="13.80" height="137.93" fill="#0000ff" stroke="#000" stroke-width="1.0"/>
<rect x="65.05" y="344.07" width="13.80" height="137.93" fill="url(#pw4)"/>
<rect x="83.50" y="427.44" width="13.80" height="54.56" fill="#f8bd82" stroke="#000" stroke-width="1.0"/>
<rect x="83.50" y="427.44" width="13.80" height="54.56" fill="url(#pk4)"/>
<rect x="101.95" y="407.26" width="13.80" height="74.74" fill="#66005a" stroke="#000" stroke-width="1.0"/>
<rect x="101.95" y="407.26" width="13.80" height="74.74" fill="url(#pp4)"/>
<rect x="134.65" y="333.21" width="13.80" height="148.79" fill="#0000ff" stroke="#000" stroke-width="1.0"/>
<rect x="134.65" y="333.21" width="13.80" height="148.79" fill="url(#pw4)"/>
<rect x="153.10" y="404.15" width="13.80" height="77.85" fill="#f8bd82" stroke="#000" stroke-width="1.0"/>
<rect x="153.10" y="404.15" width="13.80" height="77.85" fill="url(#pk4)"/>
<rect x="171.55" y="421.54" width="13.80" height="60.46" fill="#66005a" stroke="#000" stroke-width="1.0"/>
<rect x="171.55" y="421.54" width="13.80" height="60.46" fill="url(#pp4)"/>
<rect x="204.25" y="374.81" width="13.80" height="107.19" fill="#0000ff" stroke="#000" stroke-width="1.0"/>
<rect x="204.25" y="374.81" width="13.80" height="107.19" fill="url(#pw4)"/>
<rect x="222.70" y="407.10" width="13.80" height="74.90" fill="#f8bd82" stroke="#000" stroke-width="1.0"/>
<rect x="222.70" y="407.10" width="13.80" height="74.90" fill="url(#pk4)"/>
<rect x="241.15" y="405.24" width="13.80" height="76.76" fill="#66005a" stroke="#000" stroke-width="1.0"/>
<rect x="241.15" y="405.24" width="13.80" height="76.76" fill="url(#pp4)"/>
<rect x="273.85" y="390.96" width="13.80" height="91.04" fill="#0000ff" stroke="#000" stroke-width="1.0"/>
<rect x="273.85" y="390.96" width="13.80" height="91.04" fill="url(#pw4)"/>
<rect x="292.30" y="440.95" width="13.80" height="41.05" fill="#f8bd82" stroke="#000" stroke-width="1.0"/>
<rect x="292.30" y="440.95" width="13.80" height="41.05" fill="url(#pk4)"/>
<rect x="310.75" y="434.74" width="13.80" height="47.26" fill="#66005a" stroke="#000" stroke-width="1.0"/>
<rect x="310.75" y="434.74" width="13.80" height="47.26" fill="url(#pp4)"/>
<rect x="343.45" y="334.45" width="13.80" height="147.55" fill="#0000ff" stroke="#000" stroke-width="1.0"/>
<rect x="343.45" y="334.45" width="13.80" height="147.55" fill="url(#pw4)"/>
<rect x="361.90" y="403.22" width="13.80" height="78.78" fill="#f8bd82" stroke="#000" stroke-width="1.0"/>
<rect x="361.90" y="403.22" width="13.80" height="78.78" fill="url(#pk4)"/>
<rect x="380.35" y="426.04" width="13.80" height="55.96" fill="#66005a" stroke="#000" stroke-width="1.0"/>
<rect x="380.35" y="426.04" width="13.80" height="55.96" fill="url(#pp4)"/>
<circle cx="71.40" cy="336.10" r="2.9" fill="#fff" stroke="#000" stroke-width="1.0"/>
<circle cx="76.10" cy="332.90" r="2.9" fill="#fff" stroke="#000" stroke-width="1.0"/>
<circle cx="71.80" cy="362.10" r="2.9" fill="#fff" stroke="#000" stroke-width="1.0"/>
<circle cx="90.40" cy="381.10" r="2.9" fill="#fff" stroke="#000" stroke-width="1.0"/>
<circle cx="90.40" cy="418.10" r="2.9" fill="#fff" stroke="#000" stroke-width="1.0"/>
<circle cx="86.60" cy="447.40" r="2.9" fill="#f8bd82" stroke="#000" stroke-width="1.0"/>
<circle cx="90.40" cy="442.70" r="2.9" fill="#f8bd82" stroke="#000" stroke-width="1.0"/>
<circle cx="94.50" cy="444.60" r="2.9" fill="#f8bd82" stroke="#000" stroke-width="1.0"/>
<circle cx="109.00" cy="388.70" r="2.9" fill="#fff" stroke="#000" stroke-width="1.0"/>
<circle cx="109.00" cy="399.70" r="2.9" fill="#fff" stroke="#000" stroke-width="1.0"/>
<circle cx="109.00" cy="416.80" r="2.9" fill="#fff" stroke="#000" stroke-width="1.0"/>
<circle cx="109.00" cy="423.10" r="2.9" fill="#fff" stroke="#000" stroke-width="1.0"/>
<circle cx="137.40" cy="324.70" r="2.9" fill="#fff" stroke="#000" stroke-width="1.0"/>
<circle cx="141.60" cy="323.80" r="2.9" fill="#fff" stroke="#000" stroke-width="1.0"/>
<circle cx="145.80" cy="324.70" r="2.9" fill="#fff" stroke="#000" stroke-width="1.0"/>
<circle cx="141.60" cy="339.00" r="2.9" fill="#fff" stroke="#000" stroke-width="1.0"/>
<circle cx="141.60" cy="351.30" r="2.9" fill="#fff" stroke="#000" stroke-width="1.0"/>
<circle cx="155.80" cy="395.00" r="2.9" fill="#fff" stroke="#000" stroke-width="1.0"/>
<circle cx="160.60" cy="396.90" r="2.9" fill="#fff" stroke="#000" stroke-width="1.0"/>
<circle cx="164.00" cy="410.70" r="2.9" fill="#f8bd82" stroke="#000" stroke-width="1.0"/>
<circle cx="156.40" cy="414.90" r="2.9" fill="#f8bd82" stroke="#000" stroke-width="1.0"/>
<circle cx="180.00" cy="402.90" r="2.9" fill="#fff" stroke="#000" stroke-width="1.0"/>
<circle cx="174.80" cy="422.90" r="2.9" fill="#fff" stroke="#000" stroke-width="1.0"/>
<circle cx="179.60" cy="422.50" r="2.9" fill="#fff" stroke="#000" stroke-width="1.0"/>
<circle cx="183.70" cy="422.90" r="2.9" fill="#fff" stroke="#000" stroke-width="1.0"/>
<circle cx="177.30" cy="431.00" r="2.9" fill="#fff" stroke="#000" stroke-width="1.0"/>
<circle cx="210.70" cy="362.10" r="2.9" fill="#fff" stroke="#000" stroke-width="1.0"/>
<circle cx="215.10" cy="362.10" r="2.9" fill="#fff" stroke="#000" stroke-width="1.0"/>
<circle cx="211.10" cy="383.80" r="2.9" fill="#fff" stroke="#000" stroke-width="1.0"/>
<circle cx="211.10" cy="390.50" r="2.9" fill="#fff" stroke="#000" stroke-width="1.0"/>
<circle cx="229.70" cy="382.70" r="2.9" fill="#fff" stroke="#000" stroke-width="1.0"/>
<circle cx="225.20" cy="410.20" r="2.9" fill="#f8bd82" stroke="#000" stroke-width="1.0"/>
<circle cx="229.70" cy="410.20" r="2.9" fill="#f8bd82" stroke="#000" stroke-width="1.0"/>
<circle cx="234.20" cy="410.20" r="2.9" fill="#f8bd82" stroke="#000" stroke-width="1.0"/>
<circle cx="229.70" cy="418.00" r="2.9" fill="#f8bd82" stroke="#000" stroke-width="1.0"/>
<circle cx="248.30" cy="381.10" r="2.9" fill="#fff" stroke="#000" stroke-width="1.0"/>
<circle cx="248.30" cy="400.60" r="2.9" fill="#fff" stroke="#000" stroke-width="1.0"/>
<circle cx="248.30" cy="411.70" r="2.9" fill="#fff" stroke="#000" stroke-width="1.0"/>
<circle cx="248.30" cy="425.80" r="2.9" fill="#fff" stroke="#000" stroke-width="1.0"/>
<circle cx="280.70" cy="367.00" r="2.9" fill="#fff" stroke="#000" stroke-width="1.0"/>
<circle cx="280.70" cy="390.50" r="2.9" fill="#fff" stroke="#000" stroke-width="1.0"/>
<circle cx="285.20" cy="388.70" r="2.9" fill="#fff" stroke="#000" stroke-width="1.0"/>
<circle cx="280.70" cy="397.90" r="2.9" fill="#fff" stroke="#000" stroke-width="1.0"/>
<circle cx="280.70" cy="409.10" r="2.9" fill="#fff" stroke="#000" stroke-width="1.0"/>
<circle cx="299.50" cy="410.60" r="2.9" fill="#fff" stroke="#000" stroke-width="1.0"/>
<circle cx="299.50" cy="427.90" r="2.9" fill="#fff" stroke="#000" stroke-width="1.0"/>
<circle cx="299.50" cy="444.20" r="2.9" fill="#f8bd82" stroke="#000" stroke-width="1.0"/>
<circle cx="299.50" cy="454.30" r="2.9" fill="#f8bd82" stroke="#000" stroke-width="1.0"/>
<circle cx="299.50" cy="466.60" r="2.9" fill="#f8bd82" stroke="#000" stroke-width="1.0"/>
<circle cx="317.60" cy="430.80" r="2.9" fill="#fff" stroke="#000" stroke-width="1.0"/>
<circle cx="322.10" cy="429.20" r="2.9" fill="#fff" stroke="#000" stroke-width="1.0"/>
<circle cx="314.70" cy="439.70" r="2.9" fill="#fff" stroke="#000" stroke-width="1.0"/>
<circle cx="321.40" cy="437.50" r="2.9" fill="#fff" stroke="#000" stroke-width="1.0"/>
<circle cx="350.70" cy="320.20" r="2.9" fill="#fff" stroke="#000" stroke-width="1.0"/>
<circle cx="354.90" cy="329.50" r="2.9" fill="#fff" stroke="#000" stroke-width="1.0"/>
<circle cx="350.70" cy="332.60" r="2.9" fill="#fff" stroke="#000" stroke-width="1.0"/>
<circle cx="350.70" cy="342.00" r="2.9" fill="#fff" stroke="#000" stroke-width="1.0"/>
<circle cx="350.70" cy="348.00" r="2.9" fill="#fff" stroke="#000" stroke-width="1.0"/>
<circle cx="369.20" cy="360.60" r="2.9" fill="#fff" stroke="#000" stroke-width="1.0"/>
<circle cx="365.10" cy="379.60" r="2.9" fill="#fff" stroke="#000" stroke-width="1.0"/>
<circle cx="369.20" cy="384.30" r="2.9" fill="#fff" stroke="#000" stroke-width="1.0"/>
<circle cx="369.20" cy="407.30" r="2.9" fill="#f8bd82" stroke="#000" stroke-width="1.0"/>
<circle cx="369.20" cy="413.70" r="2.9" fill="#f8bd82" stroke="#000" stroke-width="1.0"/>
<circle cx="369.20" cy="419.70" r="2.9" fill="#f8bd82" stroke="#000" stroke-width="1.0"/>
<circle cx="369.20" cy="454.10" r="2.9" fill="#f8bd82" stroke="#000" stroke-width="1.0"/>
<circle cx="387.70" cy="376.00" r="2.9" fill="#fff" stroke="#000" stroke-width="1.0"/>
<circle cx="387.70" cy="418.50" r="2.9" fill="#fff" stroke="#000" stroke-width="1.0"/>
<circle cx="387.70" cy="440.10" r="2.9" fill="#fff" stroke="#000" stroke-width="1.0"/>
<circle cx="383.40" cy="447.70" r="2.9" fill="#fff" stroke="#000" stroke-width="1.0"/>
<circle cx="391.70" cy="446.50" r="2.9" fill="#fff" stroke="#000" stroke-width="1.0"/>
<line x1="71.95" y1="344.07" x2="71.95" y2="335.20" stroke="#111" stroke-width="0.9" />
<line x1="68.65" y1="335.20" x2="75.25" y2="335.20" stroke="#111" stroke-width="0.9" />
<line x1="90.40" y1="427.44" x2="90.40" y2="414.30" stroke="#111" stroke-width="0.9" />
<line x1="87.10" y1="414.30" x2="93.70" y2="414.30" stroke="#111" stroke-width="0.9" />
<line x1="108.85" y1="407.26" x2="108.85" y2="397.80" stroke="#111" stroke-width="0.9" />
<line x1="105.55" y1="397.80" x2="112.15" y2="397.80" stroke="#111" stroke-width="0.9" />
<line x1="141.55" y1="333.21" x2="141.55" y2="327.60" stroke="#111" stroke-width="0.9" />
<line x1="138.25" y1="327.60" x2="144.85" y2="327.60" stroke="#111" stroke-width="0.9" />
<line x1="160.00" y1="404.15" x2="160.00" y2="396.90" stroke="#111" stroke-width="0.9" />
<line x1="156.70" y1="396.90" x2="163.30" y2="396.90" stroke="#111" stroke-width="0.9" />
<line x1="178.45" y1="421.54" x2="178.45" y2="416.80" stroke="#111" stroke-width="0.9" />
<line x1="175.15" y1="416.80" x2="181.75" y2="416.80" stroke="#111" stroke-width="0.9" />
<line x1="211.15" y1="374.81" x2="211.15" y2="367.40" stroke="#111" stroke-width="0.9" />
<line x1="207.85" y1="367.40" x2="214.45" y2="367.40" stroke="#111" stroke-width="0.9" />
<line x1="229.60" y1="407.10" x2="229.60" y2="400.10" stroke="#111" stroke-width="0.9" />
<line x1="226.30" y1="400.10" x2="232.90" y2="400.10" stroke="#111" stroke-width="0.9" />
<line x1="248.05" y1="405.24" x2="248.05" y2="395.60" stroke="#111" stroke-width="0.9" />
<line x1="244.75" y1="395.60" x2="251.35" y2="395.60" stroke="#111" stroke-width="0.9" />
<line x1="280.75" y1="390.96" x2="280.75" y2="383.80" stroke="#111" stroke-width="0.9" />
<line x1="277.45" y1="383.80" x2="284.05" y2="383.80" stroke="#111" stroke-width="0.9" />
<line x1="299.20" y1="440.95" x2="299.20" y2="429.60" stroke="#111" stroke-width="0.9" />
<line x1="295.90" y1="429.60" x2="302.50" y2="429.60" stroke="#111" stroke-width="0.9" />
<line x1="317.65" y1="434.74" x2="317.65" y2="431.50" stroke="#111" stroke-width="0.9" />
<line x1="314.35" y1="431.50" x2="320.95" y2="431.50" stroke="#111" stroke-width="0.9" />
<line x1="350.35" y1="334.45" x2="350.35" y2="330.20" stroke="#111" stroke-width="0.9" />
<line x1="347.05" y1="330.20" x2="353.65" y2="330.20" stroke="#111" stroke-width="0.9" />
<line x1="368.80" y1="403.22" x2="368.80" y2="391.40" stroke="#111" stroke-width="0.9" />
<line x1="365.50" y1="391.40" x2="372.10" y2="391.40" stroke="#111" stroke-width="0.9" />
<line x1="387.25" y1="426.04" x2="387.25" y2="412.60" stroke="#111" stroke-width="0.9" />
<line x1="383.95" y1="412.60" x2="390.55" y2="412.60" stroke="#111" stroke-width="0.9" />
<text x="71.95" y="478.80" font-size="10.4" text-anchor="middle" fill="#fff" fill-opacity="0.95" stroke="#fff" stroke-width="0.3" stroke-opacity="0.6">(3)</text>
<text x="90.40" y="478.80" font-size="10.4" text-anchor="middle" fill="#fff" fill-opacity="0.95" stroke="#fff" stroke-width="0.3" stroke-opacity="0.6">(5)</text>
<text x="108.85" y="478.80" font-size="10.4" text-anchor="middle" fill="#fff" fill-opacity="0.95" stroke="#fff" stroke-width="0.3" stroke-opacity="0.6">(4)</text>
<text x="141.55" y="478.80" font-size="10.4" text-anchor="middle" fill="#fff" fill-opacity="0.95" stroke="#fff" stroke-width="0.3" stroke-opacity="0.6">(5)</text>
<text x="160.00" y="478.80" font-size="10.4" text-anchor="middle" fill="#fff" fill-opacity="0.95" stroke="#fff" stroke-width="0.3" stroke-opacity="0.6">(4)</text>
<text x="178.45" y="478.80" font-size="10.4" text-anchor="middle" fill="#fff" fill-opacity="0.95" stroke="#fff" stroke-width="0.3" stroke-opacity="0.6">(6)</text>
<text x="211.15" y="478.80" font-size="10.4" text-anchor="middle" fill="#fff" fill-opacity="0.95" stroke="#fff" stroke-width="0.3" stroke-opacity="0.6">(4)</text>
<text x="229.60" y="478.80" font-size="10.4" text-anchor="middle" fill="#fff" fill-opacity="0.95" stroke="#fff" stroke-width="0.3" stroke-opacity="0.6">(5)</text>
<text x="248.05" y="478.80" font-size="10.4" text-anchor="middle" fill="#fff" fill-opacity="0.95" stroke="#fff" stroke-width="0.3" stroke-opacity="0.6">(4)</text>
<text x="280.75" y="478.80" font-size="10.4" text-anchor="middle" fill="#fff" fill-opacity="0.95" stroke="#fff" stroke-width="0.3" stroke-opacity="0.6">(5)</text>
<text x="299.20" y="478.80" font-size="10.4" text-anchor="middle" fill="#fff" fill-opacity="0.95" stroke="#fff" stroke-width="0.3" stroke-opacity="0.6">(5)</text>
<text x="317.65" y="478.80" font-size="10.4" text-anchor="middle" fill="#fff" fill-opacity="0.95" stroke="#fff" stroke-width="0.3" stroke-opacity="0.6">(4)</text>
<text x="350.35" y="478.80" font-size="10.4" text-anchor="middle" fill="#fff" fill-opacity="0.95" stroke="#fff" stroke-width="0.3" stroke-opacity="0.6">(5)</text>
<text x="368.80" y="478.80" font-size="10.4" text-anchor="middle" fill="#fff" fill-opacity="0.95" stroke="#fff" stroke-width="0.3" stroke-opacity="0.6">(7)</text>
<text x="387.25" y="478.80" font-size="10.4" text-anchor="middle" fill="#fff" fill-opacity="0.95" stroke="#fff" stroke-width="0.3" stroke-opacity="0.6">(5)</text>
<line x1="70.80" y1="300.10" x2="114.10" y2="300.10" stroke="#8a8a8a" stroke-width="1.1" />
<text x="72.10" y="295.80" font-size="10.8" text-anchor="start" fill="#111"  stroke="#111" stroke-width="0.25">p = 0.008</text>
<line x1="70.80" y1="318.30" x2="95.50" y2="318.30" stroke="#8a8a8a" stroke-width="1.1" />
<text x="62.70" y="315.50" font-size="10.8" text-anchor="start" fill="#111"  stroke="#111" stroke-width="0.25">p = 0.001</text>
<line x1="141.00" y1="300.10" x2="184.20" y2="300.10" stroke="#8a8a8a" stroke-width="1.1" />
<text x="137.80" y="297.50" font-size="10.8" text-anchor="start" fill="#111"  stroke="#111" stroke-width="0.25">p &lt; 0.001</text>
<line x1="141.00" y1="318.30" x2="165.60" y2="318.30" stroke="#8a8a8a" stroke-width="1.1" />
<text x="129.00" y="316.80" font-size="10.8" text-anchor="start" fill="#111"  stroke="#111" stroke-width="0.25">p &lt; 0.001</text>
<line x1="212.50" y1="335.20" x2="255.40" y2="335.20" stroke="#8a8a8a" stroke-width="1.1" />
<text x="211.90" y="330.60" font-size="10.8" text-anchor="start" fill="#111"  stroke="#111" stroke-width="0.25">p = 0.024</text>
<line x1="212.50" y1="353.60" x2="237.00" y2="353.60" stroke="#8a8a8a" stroke-width="1.1" />
<text x="202.70" y="349.90" font-size="10.8" text-anchor="start" fill="#111"  stroke="#111" stroke-width="0.25">p = 0.039</text>
<line x1="280.80" y1="340.40" x2="323.80" y2="340.40" stroke="#8a8a8a" stroke-width="1.1" />
<text x="279.90" y="338.20" font-size="10.8" text-anchor="start" fill="#111"  stroke="#111" stroke-width="0.25">p = 0.001</text>
<line x1="280.80" y1="358.20" x2="305.40" y2="358.20" stroke="#8a8a8a" stroke-width="1.1" />
<text x="270.10" y="357.30" font-size="10.8" text-anchor="start" fill="#111"  stroke="#111" stroke-width="0.25">p = 0.004</text>
<line x1="352.90" y1="293.20" x2="395.80" y2="293.20" stroke="#8a8a8a" stroke-width="1.1" />
<text x="352.90" y="289.20" font-size="10.8" text-anchor="start" fill="#111"  stroke="#111" stroke-width="0.25">p = 0.001</text>
<line x1="352.90" y1="311.60" x2="377.40" y2="311.60" stroke="#8a8a8a" stroke-width="1.1" />
<text x="344.30" y="310.00" font-size="10.8" text-anchor="start" fill="#111"  stroke="#111" stroke-width="0.25">p &lt; 0.001</text>
<text x="273.80" y="272.00" font-size="10.7" text-anchor="middle" fill="#111"  stroke="#111" stroke-width="0.25">PSFL2780</text>
<rect x="418.1" y="298.1" width="21.9" height="3.7" fill="#0000ff" stroke="#000" stroke-width="1"/><rect x="418.1" y="298.1" width="21.9" height="3.7" fill="url(#pw4)"/>
<rect x="418.1" y="331.4" width="21.9" height="3.7" fill="#f8bd82" stroke="#000" stroke-width="1"/><rect x="418.1" y="331.4" width="21.9" height="3.7" fill="url(#pk4)"/>
<rect x="418.1" y="367.1" width="21.9" height="3.7" fill="#66005a" stroke="#000" stroke-width="1"/><rect x="418.1" y="367.1" width="21.9" height="3.7" fill="url(#pp4)"/>
<text x="434.90" y="315.50" text-anchor="middle" fill="#2a2af8" stroke="#2a2af8" stroke-width="0.25" font-size="11"><tspan font-size="7.4" dy="-4.2">pd7</tspan><tspan dy="4.2">WT</tspan></text>
<text x="433.10" y="350.10" text-anchor="middle" fill="#d2a535" stroke="#d2a535" stroke-width="0.25" font-size="11"><tspan font-size="7.4" dy="-4.2">pd7</tspan><tspan dy="4.2">F88A</tspan></text>
<text x="433.20" y="383.00" text-anchor="middle" fill="#7a2470" stroke="#7a2470" stroke-width="0.25" font-size="11"><tspan font-size="7.4" dy="-4.2">pd7</tspan><tspan dy="4.2">V312A</tspan></text>
<text x="482.00" y="268.30" font-size="19.5" text-anchor="start" fill="#000"  stroke="#000" stroke-width="0.25">e</text>
<text x="602.40" y="275.40" font-size="10.8" text-anchor="middle" fill="#111"  stroke="#111" stroke-width="0.25">PSFL2780</text>
<line x1="508.40" y1="283.60" x2="508.40" y2="471.20" stroke="#333" stroke-width="1" />
<line x1="507.90" y1="470.80" x2="682.10" y2="470.80" stroke="#333" stroke-width="1" />
<line x1="505.70" y1="470.80" x2="508.40" y2="470.80" stroke="#333" stroke-width="1" />
<text x="503.20" y="474.50" font-size="10.2" text-anchor="end" fill="#111"  stroke="#111" stroke-width="0.25">0.0</text>
<line x1="506.80" y1="447.43" x2="508.40" y2="447.43" stroke="#333" stroke-width="0.8" />
<line x1="505.70" y1="424.06" x2="508.40" y2="424.06" stroke="#333" stroke-width="1" />
<text x="503.20" y="427.76" font-size="10.2" text-anchor="end" fill="#111"  stroke="#111" stroke-width="0.25">0.3</text>
<line x1="506.80" y1="400.69" x2="508.40" y2="400.69" stroke="#333" stroke-width="0.8" />
<line x1="505.70" y1="377.32" x2="508.40" y2="377.32" stroke="#333" stroke-width="1" />
<text x="503.20" y="381.02" font-size="10.2" text-anchor="end" fill="#111"  stroke="#111" stroke-width="0.25">0.6</text>
<line x1="506.80" y1="353.95" x2="508.40" y2="353.95" stroke="#333" stroke-width="0.8" />
<line x1="505.70" y1="330.58" x2="508.40" y2="330.58" stroke="#333" stroke-width="1" />
<text x="503.20" y="334.28" font-size="10.2" text-anchor="end" fill="#111"  stroke="#111" stroke-width="0.25">0.9</text>
<line x1="506.80" y1="307.21" x2="508.40" y2="307.21" stroke="#333" stroke-width="0.8" />
<line x1="505.70" y1="283.84" x2="508.40" y2="283.84" stroke="#333" stroke-width="1" />
<text x="503.20" y="287.54" font-size="10.2" text-anchor="end" fill="#111"  stroke="#111" stroke-width="0.25">1.2</text>
<line x1="508.90" y1="470.80" x2="508.90" y2="473.80" stroke="#333" stroke-width="1" />
<text x="508.90" y="483.60" font-size="10.6" text-anchor="middle" fill="#111"  stroke="#111" stroke-width="0.25">0.01</text>
<line x1="522.66" y1="470.80" x2="522.66" y2="472.50" stroke="#333" stroke-width="0.8" />
<line x1="530.70" y1="470.80" x2="530.70" y2="472.50" stroke="#333" stroke-width="0.8" />
<line x1="536.41" y1="470.80" x2="536.41" y2="472.50" stroke="#333" stroke-width="0.8" />
<line x1="540.84" y1="470.80" x2="540.84" y2="472.50" stroke="#333" stroke-width="0.8" />
<line x1="544.46" y1="470.80" x2="544.46" y2="472.50" stroke="#333" stroke-width="0.8" />
<line x1="547.52" y1="470.80" x2="547.52" y2="472.50" stroke="#333" stroke-width="0.8" />
<line x1="550.17" y1="470.80" x2="550.17" y2="472.50" stroke="#333" stroke-width="0.8" />
<line x1="552.51" y1="470.80" x2="552.51" y2="472.50" stroke="#333" stroke-width="0.8" />
<line x1="554.60" y1="470.80" x2="554.60" y2="473.80" stroke="#333" stroke-width="1" />
<text x="554.60" y="483.60" font-size="10.6" text-anchor="middle" fill="#111"  stroke="#111" stroke-width="0.25">0.1</text>
<line x1="568.36" y1="470.80" x2="568.36" y2="472.50" stroke="#333" stroke-width="0.8" />
<line x1="576.40" y1="470.80" x2="576.40" y2="472.50" stroke="#333" stroke-width="0.8" />
<line x1="582.11" y1="470.80" x2="582.11" y2="472.50" stroke="#333" stroke-width="0.8" />
<line x1="586.54" y1="470.80" x2="586.54" y2="472.50" stroke="#333" stroke-width="0.8" />
<line x1="590.16" y1="470.80" x2="590.16" y2="472.50" stroke="#333" stroke-width="0.8" />
<line x1="593.22" y1="470.80" x2="593.22" y2="472.50" stroke="#333" stroke-width="0.8" />
<line x1="595.87" y1="470.80" x2="595.87" y2="472.50" stroke="#333" stroke-width="0.8" />
<line x1="598.21" y1="470.80" x2="598.21" y2="472.50" stroke="#333" stroke-width="0.8" />
<line x1="600.30" y1="470.80" x2="600.30" y2="473.80" stroke="#333" stroke-width="1" />
<text x="600.30" y="483.60" font-size="10.6" text-anchor="middle" fill="#111"  stroke="#111" stroke-width="0.25">1</text>
<line x1="614.06" y1="470.80" x2="614.06" y2="472.50" stroke="#333" stroke-width="0.8" />
<line x1="622.10" y1="470.80" x2="622.10" y2="472.50" stroke="#333" stroke-width="0.8" />
<line x1="627.81" y1="470.80" x2="627.81" y2="472.50" stroke="#333" stroke-width="0.8" />
<line x1="632.24" y1="470.80" x2="632.24" y2="472.50" stroke="#333" stroke-width="0.8" />
<line x1="635.86" y1="470.80" x2="635.86" y2="472.50" stroke="#333" stroke-width="0.8" />
<line x1="638.92" y1="470.80" x2="638.92" y2="472.50" stroke="#333" stroke-width="0.8" />
<line x1="641.57" y1="470.80" x2="641.57" y2="472.50" stroke="#333" stroke-width="0.8" />
<line x1="643.91" y1="470.80" x2="643.91" y2="472.50" stroke="#333" stroke-width="0.8" />
<line x1="646.00" y1="470.80" x2="646.00" y2="473.80" stroke="#333" stroke-width="1" />
<text x="646.00" y="483.60" font-size="10.6" text-anchor="middle" fill="#111"  stroke="#111" stroke-width="0.25">10</text>
<line x1="659.76" y1="470.80" x2="659.76" y2="472.50" stroke="#333" stroke-width="0.8" />
<line x1="667.80" y1="470.80" x2="667.80" y2="472.50" stroke="#333" stroke-width="0.8" />
<line x1="673.51" y1="470.80" x2="673.51" y2="472.50" stroke="#333" stroke-width="0.8" />
<line x1="677.94" y1="470.80" x2="677.94" y2="472.50" stroke="#333" stroke-width="0.8" />
<line x1="681.56" y1="470.80" x2="681.56" y2="472.50" stroke="#333" stroke-width="0.8" />
<text x="595.30" y="496.50" font-size="11.0" text-anchor="middle" fill="#111"  stroke="#111" stroke-width="0.25">PSFL2780 (µM)</text>
<text transform="translate(484.6,388.6) rotate(-90)" font-size="10.8" fill="#111" stroke="#111" stroke-width="0.25">I/I<tspan font-size="6.8" dy="2.9">Max</tspan></text>
<g stroke="#888" stroke-width="0.7" stroke-opacity="0.6"><line x1="554.60" y1="316.40" x2="554.60" y2="319.52"/><line x1="552.80" y1="316.40" x2="556.40" y2="316.40"/><line x1="552.80" y1="319.52" x2="556.40" y2="319.52"/></g>
<g stroke="#888" stroke-width="0.7" stroke-opacity="0.6"><line x1="576.40" y1="324.50" x2="576.40" y2="332.29"/><line x1="574.60" y1="324.50" x2="578.20" y2="324.50"/><line x1="574.60" y1="332.29" x2="578.20" y2="332.29"/></g>
<g stroke="#888" stroke-width="0.7" stroke-opacity="0.6"><line x1="600.30" y1="357.22" x2="600.30" y2="368.13"/><line x1="598.50" y1="357.22" x2="602.10" y2="357.22"/><line x1="598.50" y1="368.13" x2="602.10" y2="368.13"/></g>
<g stroke="#888" stroke-width="0.7" stroke-opacity="0.6"><line x1="622.10" y1="396.80" x2="622.10" y2="415.49"/><line x1="620.30" y1="396.80" x2="623.90" y2="396.80"/><line x1="620.30" y1="415.49" x2="623.90" y2="415.49"/></g>
<g stroke="#888" stroke-width="0.7" stroke-opacity="0.6"><line x1="646.00" y1="433.56" x2="646.00" y2="439.80"/><line x1="644.20" y1="433.56" x2="647.80" y2="433.56"/><line x1="644.20" y1="439.80" x2="647.80" y2="439.80"/></g>
<g stroke="#888" stroke-width="0.7" stroke-opacity="0.6"><line x1="667.80" y1="439.02" x2="667.80" y2="446.81"/><line x1="666.00" y1="439.02" x2="669.60" y2="439.02"/><line x1="666.00" y1="446.81" x2="669.60" y2="446.81"/></g>
<g stroke="#7fcf9f" stroke-width="0.7" stroke-opacity="0.6"><line x1="530.70" y1="315.78" x2="530.70" y2="325.13"/><line x1="528.90" y1="315.78" x2="532.50" y2="315.78"/><line x1="528.90" y1="325.13" x2="532.50" y2="325.13"/></g>
<g stroke="#7fcf9f" stroke-width="0.7" stroke-opacity="0.6"><line x1="554.60" y1="331.51" x2="554.60" y2="342.42"/><line x1="552.80" y1="331.51" x2="556.40" y2="331.51"/><line x1="552.80" y1="342.42" x2="556.40" y2="342.42"/></g>
<g stroke="#7fcf9f" stroke-width="0.7" stroke-opacity="0.6"><line x1="576.40" y1="353.64" x2="576.40" y2="367.66"/><line x1="574.60" y1="353.64" x2="578.20" y2="353.64"/><line x1="574.60" y1="367.66" x2="578.20" y2="367.66"/></g>
<g stroke="#7fcf9f" stroke-width="0.7" stroke-opacity="0.6"><line x1="600.30" y1="380.12" x2="600.30" y2="401.94"/><line x1="598.50" y1="380.12" x2="602.10" y2="380.12"/><line x1="598.50" y1="401.94" x2="602.10" y2="401.94"/></g>
<g stroke="#7fcf9f" stroke-width="0.7" stroke-opacity="0.6"><line x1="622.10" y1="416.58" x2="622.10" y2="436.84"/><line x1="620.30" y1="416.58" x2="623.90" y2="416.58"/><line x1="620.30" y1="436.84" x2="623.90" y2="436.84"/></g>
<g stroke="#7fcf9f" stroke-width="0.7" stroke-opacity="0.6"><line x1="646.00" y1="422.35" x2="646.00" y2="456.62"/><line x1="644.20" y1="422.35" x2="647.80" y2="422.35"/><line x1="644.20" y1="456.62" x2="647.80" y2="456.62"/></g>
<g stroke="#f08080" stroke-width="0.7" stroke-opacity="0.6"><line x1="667.80" y1="366.41" x2="667.80" y2="375.76"/><line x1="666.00" y1="366.41" x2="669.60" y2="366.41"/><line x1="666.00" y1="375.76" x2="669.60" y2="375.76"/></g>
<g stroke="#80a0f0" stroke-width="0.7" stroke-opacity="0.6"><line x1="667.80" y1="351.77" x2="667.80" y2="356.44"/><line x1="666.00" y1="351.77" x2="669.60" y2="351.77"/><line x1="666.00" y1="356.44" x2="669.60" y2="356.44"/></g>
<polyline points="554.60,317.97 555.54,318.21 556.49,318.45 557.43,318.71 558.37,318.99 559.32,319.28 560.26,319.59 561.20,319.92 562.15,320.27 563.09,320.63 564.03,321.02 564.98,321.43 565.92,321.86 566.86,322.31 567.81,322.79 568.75,323.30 569.69,323.83 570.64,324.39 571.58,324.98 572.52,325.60 573.47,326.26 574.41,326.95 575.35,327.67 576.30,328.43 577.24,329.22 578.18,330.06 579.13,330.93 580.07,331.85 581.01,332.80 581.96,333.80 582.90,334.85 583.84,335.93 584.79,337.07 585.73,338.25 586.67,339.47 587.62,340.75 588.56,342.07 589.50,343.44 590.45,344.85 591.39,346.31 592.33,347.82 593.28,349.38 594.22,350.98 595.16,352.62 596.11,354.31 597.05,356.04 598.00,357.80 598.94,359.61 599.88,361.44 600.83,363.32 601.77,365.22 602.71,367.14 603.66,369.09 604.60,371.06 605.54,373.05 606.49,375.05 607.43,377.07 608.37,379.08 609.32,381.10 610.26,383.12 611.20,385.13 612.15,387.14 613.09,389.13 614.03,391.10 614.98,393.06 615.92,394.99 616.86,396.90 617.81,398.78 618.75,400.62 619.69,402.44 620.64,404.21 621.58,405.95 622.52,407.65 623.47,409.30 624.41,410.91 625.35,412.48 626.30,414.00 627.24,415.47 628.18,416.90 629.13,418.28 630.07,419.61 631.01,420.89 631.96,422.13 632.90,423.32 633.84,424.47 634.79,425.57 635.73,426.62 636.67,427.63 637.62,428.60 638.56,429.52 639.50,430.40 640.45,431.25 641.39,432.05 642.33,432.82 643.28,433.55 644.22,434.25 645.16,434.91 646.11,435.54 647.05,436.14 647.99,436.71 648.94,437.25 649.88,437.76 650.82,438.25 651.77,438.71 652.71,439.14 653.65,439.56 654.60,439.95 655.54,440.32 656.48,440.67 657.43,441.00 658.37,441.31 659.31,441.61 660.26,441.89 661.20,442.15 662.14,442.40 663.09,442.64 664.03,442.86 664.97,443.07 665.92,443.27 666.86,443.46 667.80,443.64" fill="none" stroke="#444" stroke-width="1.2"/>
<polyline points="530.70,321.43 531.67,321.81 532.63,322.20 533.59,322.60 534.55,323.02 535.51,323.46 536.47,323.91 537.43,324.37 538.39,324.86 539.35,325.35 540.31,325.86 541.27,326.39 542.23,326.94 543.19,327.51 544.16,328.09 545.12,328.69 546.08,329.31 547.04,329.95 548.00,330.61 548.96,331.28 549.92,331.98 550.88,332.70 551.84,333.44 552.80,334.20 553.76,334.98 554.72,335.78 555.69,336.61 556.65,337.46 557.61,338.32 558.57,339.21 559.53,340.13 560.49,341.06 561.45,342.02 562.41,343.00 563.37,344.00 564.33,345.03 565.29,346.08 566.25,347.14 567.21,348.24 568.18,349.35 569.14,350.48 570.10,351.64 571.06,352.81 572.02,354.01 572.98,355.23 573.94,356.46 574.90,357.72 575.86,358.99 576.82,360.28 577.78,361.58 578.74,362.91 579.71,364.24 580.67,365.60 581.63,366.96 582.59,368.34 583.55,369.73 584.51,371.13 585.47,372.54 586.43,373.96 587.39,375.38 588.35,376.81 589.31,378.25 590.27,379.69 591.23,381.13 592.20,382.58 593.16,384.03 594.12,385.47 595.08,386.91 596.04,388.35 597.00,389.79 597.96,391.22 598.92,392.65 599.88,394.06 600.84,395.47 601.80,396.87 602.76,398.26 603.72,399.63 604.69,401.00 605.65,402.35 606.61,403.68 607.57,405.00 608.53,406.31 609.49,407.60 610.45,408.87 611.41,410.12 612.37,411.35 613.33,412.56 614.29,413.76 615.25,414.93 616.22,416.08 617.18,417.22 618.14,418.33 619.10,419.41 620.06,420.48 621.02,421.52 621.98,422.55 622.94,423.55 623.90,424.52 624.86,425.48 625.82,426.41 626.78,427.32 627.74,428.21 628.71,429.07 629.67,429.92 630.63,430.74 631.59,431.54 632.55,432.32 633.51,433.08 634.47,433.81 635.43,434.53 636.39,435.22 637.35,435.90 638.31,436.55 639.27,437.19 640.24,437.81 641.20,438.41 642.16,438.99 643.12,439.55 644.08,440.09 645.04,440.62 646.00,441.13" fill="none" stroke="#2eb46a" stroke-width="1.3"/>
<rect x="552.15" y="315.51" width="4.9" height="4.9" fill="none" stroke="#555" stroke-width="1.15"/>
<rect x="573.95" y="325.95" width="4.9" height="4.9" fill="none" stroke="#555" stroke-width="1.15"/>
<rect x="597.85" y="360.22" width="4.9" height="4.9" fill="none" stroke="#555" stroke-width="1.15"/>
<rect x="619.65" y="403.69" width="4.9" height="4.9" fill="none" stroke="#555" stroke-width="1.15"/>
<rect x="643.55" y="434.23" width="4.9" height="4.9" fill="none" stroke="#555" stroke-width="1.15"/>
<rect x="665.35" y="440.46" width="4.9" height="4.9" fill="none" stroke="#555" stroke-width="1.15"/>
<polygon points="530.70,323.69 527.60,318.30 533.80,318.30" fill="none" stroke="#2eb46a" stroke-width="1.15"/>
<polygon points="554.60,340.20 551.50,334.81 557.70,334.81" fill="none" stroke="#2eb46a" stroke-width="1.15"/>
<polygon points="576.40,363.89 573.30,358.49 579.50,358.49" fill="none" stroke="#2eb46a" stroke-width="1.15"/>
<polygon points="600.30,394.27 597.20,388.87 603.40,388.87" fill="none" stroke="#2eb46a" stroke-width="1.15"/>
<polygon points="622.10,429.94 619.00,424.55 625.20,424.55" fill="none" stroke="#2eb46a" stroke-width="1.15"/>
<polygon points="646.00,442.72 642.90,437.33 649.10,437.33" fill="none" stroke="#2eb46a" stroke-width="1.15"/>
<polygon points="667.80,350.87 664.70,356.26 670.90,356.26" fill="none" stroke="#2a6be0" stroke-width="1.15"/>
<circle cx="667.80" cy="371.09" r="2.75" fill="none" stroke="#ee3535" stroke-width="1.15"/>
<rect x="521.75" y="407.55" width="4.9" height="4.9" fill="none" stroke="#555" stroke-width="1.15"/>
<circle cx="524.20" cy="425.10" r="2.75" fill="none" stroke="#ee3535" stroke-width="1.15"/>
<polygon points="524.20,436.36 521.10,441.76 527.30,441.76" fill="none" stroke="#2a6be0" stroke-width="1.15"/>
<polygon points="524.20,457.24 521.10,451.84 527.30,451.84" fill="none" stroke="#2eb46a" stroke-width="1.15"/>
<text x="538.4" y="413.7" font-size="10.6" fill="#111" stroke="#111" stroke-width="0.25"><tspan font-size="7.2" dy="-4">pd7</tspan><tspan dy="4">WT</tspan></text>
<text x="538.4" y="428.8" font-size="10.6" fill="#111" stroke="#111" stroke-width="0.25"><tspan font-size="7.2" dy="-4">pd7</tspan><tspan dy="4">F88A</tspan></text>
<text x="538.4" y="443.6" font-size="10.6" fill="#111" stroke="#111" stroke-width="0.25"><tspan font-size="7.2" dy="-4">pd7</tspan><tspan dy="4">V312A</tspan></text>
<text x="538.4" y="458.4" font-size="10.6" fill="#111" stroke="#111" stroke-width="0.25"><tspan font-size="7.2" dy="-4">m7</tspan><tspan dy="4">A312V</tspan></text>
<text x="1.80" y="516.70" font-size="19.5" text-anchor="start" fill="#000"  stroke="#000" stroke-width="0.25">f</text>
<line x1="61.30" y1="527.30" x2="61.30" y2="721.20" stroke="#2a2a2a" stroke-width="1" />
<line x1="60.80" y1="720.70" x2="655.10" y2="720.70" stroke="#2a2a2a" stroke-width="1" />
<line x1="54.30" y1="703.20" x2="61.30" y2="703.20" stroke="#2a2a2a" stroke-width="1" />
<text x="52.30" y="707.10" font-size="10.8" text-anchor="end" fill="#111"  stroke="#111" stroke-width="0.25">0.0</text>
<line x1="54.30" y1="645.00" x2="61.30" y2="645.00" stroke="#2a2a2a" stroke-width="1" />
<text x="52.30" y="648.90" font-size="10.8" text-anchor="end" fill="#111"  stroke="#111" stroke-width="0.25">0.5</text>
<line x1="54.30" y1="586.80" x2="61.30" y2="586.80" stroke="#2a2a2a" stroke-width="1" />
<text x="52.30" y="590.70" font-size="10.8" text-anchor="end" fill="#111"  stroke="#111" stroke-width="0.25">1.0</text>
<line x1="54.30" y1="528.60" x2="61.30" y2="528.60" stroke="#2a2a2a" stroke-width="1" />
<text x="52.30" y="532.50" font-size="10.8" text-anchor="end" fill="#111"  stroke="#111" stroke-width="0.25">1.5</text>
<line x1="135.20" y1="720.70" x2="135.20" y2="726.00" stroke="#2a2a2a" stroke-width="1" />
<text x="135.20" y="736.50" font-size="10.9" text-anchor="middle" fill="#111"  stroke="#111" stroke-width="0.25">PSFL2763</text>
<line x1="283.45" y1="720.70" x2="283.45" y2="726.00" stroke="#2a2a2a" stroke-width="1" />
<text x="283.45" y="736.50" font-size="10.9" text-anchor="middle" fill="#111"  stroke="#111" stroke-width="0.25">PSFL2780</text>
<line x1="431.55" y1="720.70" x2="431.55" y2="726.00" stroke="#2a2a2a" stroke-width="1" />
<text x="431.55" y="736.50" font-size="10.9" text-anchor="middle" fill="#111"  stroke="#111" stroke-width="0.25">PSFL2783</text>
<line x1="579.60" y1="720.70" x2="579.60" y2="726.00" stroke="#2a2a2a" stroke-width="1" />
<text x="579.60" y="736.50" font-size="10.9" text-anchor="middle" fill="#111"  stroke="#111" stroke-width="0.25">PSFL2784</text>
<text transform="translate(31.00,625.60) rotate(-90)" font-size="10.3" text-anchor="middle" fill="#111" stroke="#111" stroke-width="0.25">Inhibition ratio (Normalized by pdP2X7)</text>
<line x1="62" y1="589.5" x2="640" y2="589.5" stroke="#777" stroke-width="1" stroke-dasharray="4.2,1.6"/>
<rect x="77.30" y="587.38" width="20.20" height="133.32" fill="#0000ff" stroke="#000" stroke-width="1.0"/>
<rect x="77.30" y="587.38" width="20.20" height="133.32" fill="url(#pw4)"/>
<rect x="109.20" y="618.00" width="20.20" height="102.70" fill="#383838" stroke="#000" stroke-width="1.0"/>
<rect x="109.20" y="618.00" width="20.20" height="102.70" fill="url(#pg4)"/>
<rect x="141.00" y="655.59" width="20.20" height="65.11" fill="#f0a2e6" stroke="#000" stroke-width="1.0"/>
<rect x="141.00" y="655.59" width="20.20" height="65.11" fill="url(#pk4)"/>
<rect x="172.90" y="694.59" width="20.20" height="26.11" fill="#00bf00" stroke="#000" stroke-width="1.0"/>
<rect x="172.90" y="694.59" width="20.20" height="26.11" fill="url(#pk4)"/>
<rect x="225.55" y="587.38" width="20.20" height="133.32" fill="#0000ff" stroke="#000" stroke-width="1.0"/>
<rect x="225.55" y="587.38" width="20.20" height="133.32" fill="url(#pw4)"/>
<rect x="257.45" y="577.72" width="20.20" height="142.98" fill="#383838" stroke="#000" stroke-width="1.0"/>
<rect x="257.45" y="577.72" width="20.20" height="142.98" fill="url(#pg4)"/>
<rect x="289.25" y="645.23" width="20.20" height="75.47" fill="#f0a2e6" stroke="#000" stroke-width="1.0"/>
<rect x="289.25" y="645.23" width="20.20" height="75.47" fill="url(#pk4)"/>
<rect x="321.15" y="691.33" width="20.20" height="29.37" fill="#00bf00" stroke="#000" stroke-width="1.0"/>
<rect x="321.15" y="691.33" width="20.20" height="29.37" fill="url(#pk4)"/>
<rect x="373.65" y="587.38" width="20.20" height="133.32" fill="#0000ff" stroke="#000" stroke-width="1.0"/>
<rect x="373.65" y="587.38" width="20.20" height="133.32" fill="url(#pw4)"/>
<rect x="405.55" y="647.44" width="20.20" height="73.26" fill="#383838" stroke="#000" stroke-width="1.0"/>
<rect x="405.55" y="647.44" width="20.20" height="73.26" fill="url(#pg4)"/>
<rect x="437.35" y="681.43" width="20.20" height="39.27" fill="#f0a2e6" stroke="#000" stroke-width="1.0"/>
<rect x="437.35" y="681.43" width="20.20" height="39.27" fill="url(#pk4)"/>
<rect x="469.25" y="676.78" width="20.20" height="43.92" fill="#00bf00" stroke="#000" stroke-width="1.0"/>
<rect x="469.25" y="676.78" width="20.20" height="43.92" fill="url(#pk4)"/>
<rect x="521.70" y="587.38" width="20.20" height="133.32" fill="#0000ff" stroke="#000" stroke-width="1.0"/>
<rect x="521.70" y="587.38" width="20.20" height="133.32" fill="url(#pw4)"/>
<rect x="553.60" y="615.32" width="20.20" height="105.38" fill="#383838" stroke="#000" stroke-width="1.0"/>
<rect x="553.60" y="615.32" width="20.20" height="105.38" fill="url(#pg4)"/>
<rect x="585.40" y="694.12" width="20.20" height="26.58" fill="#f0a2e6" stroke="#000" stroke-width="1.0"/>
<rect x="585.40" y="694.12" width="20.20" height="26.58" fill="url(#pk4)"/>
<rect x="617.30" y="683.30" width="20.20" height="37.40" fill="#00bf00" stroke="#000" stroke-width="1.0"/>
<rect x="617.30" y="683.30" width="20.20" height="37.40" fill="url(#pk4)"/>
<circle cx="87.30" cy="578.40" r="3.45" fill="#fff" stroke="#000" stroke-width="1.1"/>
<circle cx="94.20" cy="576.10" r="3.45" fill="#fff" stroke="#000" stroke-width="1.1"/>
<circle cx="87.30" cy="605.30" r="3.45" fill="#fff" stroke="#000" stroke-width="1.1"/>
<circle cx="112.20" cy="619.60" r="3.45" fill="#fff" stroke="#000" stroke-width="1.1"/>
<circle cx="119.10" cy="615.70" r="3.45" fill="#fff" stroke="#000" stroke-width="1.1"/>
<circle cx="126.00" cy="615.70" r="3.45" fill="#fff" stroke="#000" stroke-width="1.1"/>
<circle cx="151.10" cy="646.80" r="3.45" fill="#fff" stroke="#000" stroke-width="1.1"/>
<circle cx="151.10" cy="655.40" r="3.45" fill="#fff" stroke="#000" stroke-width="1.1"/>
<circle cx="144.50" cy="659.50" r="3.45" fill="#fff" stroke="#000" stroke-width="1.1"/>
<circle cx="157.60" cy="657.90" r="3.45" fill="#fff" stroke="#000" stroke-width="1.1"/>
<circle cx="183.00" cy="690.60" r="3.45" fill="#fff" stroke="#000" stroke-width="1.1"/>
<circle cx="189.90" cy="688.30" r="3.45" fill="#fff" stroke="#000" stroke-width="1.1"/>
<circle cx="183.00" cy="703.30" r="3.45" fill="#fff" stroke="#000" stroke-width="1.1"/>
<circle cx="229.20" cy="578.40" r="3.45" fill="#fff" stroke="#000" stroke-width="1.1"/>
<circle cx="235.70" cy="578.80" r="3.45" fill="#fff" stroke="#000" stroke-width="1.1"/>
<circle cx="242.60" cy="580.00" r="3.45" fill="#fff" stroke="#000" stroke-width="1.1"/>
<circle cx="235.70" cy="592.20" r="3.45" fill="#fff" stroke="#000" stroke-width="1.1"/>
<circle cx="235.70" cy="604.20" r="3.45" fill="#fff" stroke="#000" stroke-width="1.1"/>
<circle cx="261.00" cy="576.10" r="3.45" fill="#fff" stroke="#000" stroke-width="1.1"/>
<circle cx="267.30" cy="573.80" r="3.45" fill="#fff" stroke="#000" stroke-width="1.1"/>
<circle cx="274.20" cy="575.40" r="3.45" fill="#fff" stroke="#000" stroke-width="1.1"/>
<circle cx="299.10" cy="630.00" r="3.45" fill="#fff" stroke="#000" stroke-width="1.1"/>
<circle cx="299.10" cy="647.30" r="3.45" fill="#fff" stroke="#000" stroke-width="1.1"/>
<circle cx="299.10" cy="656.70" r="3.45" fill="#fff" stroke="#000" stroke-width="1.1"/>
<circle cx="331.30" cy="679.60" r="3.45" fill="#fff" stroke="#000" stroke-width="1.1"/>
<circle cx="331.30" cy="689.50" r="3.45" fill="#fff" stroke="#000" stroke-width="1.1"/>
<circle cx="331.30" cy="703.30" r="3.45" fill="#fff" stroke="#000" stroke-width="1.1"/>
<circle cx="383.70" cy="569.10" r="3.45" fill="#fff" stroke="#000" stroke-width="1.1"/>
<circle cx="389.90" cy="569.10" r="3.45" fill="#fff" stroke="#000" stroke-width="1.1"/>
<circle cx="383.70" cy="600.00" r="3.45" fill="#fff" stroke="#000" stroke-width="1.1"/>
<circle cx="383.70" cy="607.60" r="3.45" fill="#fff" stroke="#000" stroke-width="1.1"/>
<circle cx="415.70" cy="641.10" r="3.45" fill="#fff" stroke="#000" stroke-width="1.1"/>
<circle cx="422.60" cy="636.00" r="3.45" fill="#fff" stroke="#000" stroke-width="1.1"/>
<circle cx="415.70" cy="661.40" r="3.45" fill="#fff" stroke="#000" stroke-width="1.1"/>
<circle cx="447.10" cy="672.90" r="3.45" fill="#fff" stroke="#000" stroke-width="1.1"/>
<circle cx="440.60" cy="685.30" r="3.45" fill="#fff" stroke="#000" stroke-width="1.1"/>
<circle cx="453.80" cy="684.40" r="3.45" fill="#fff" stroke="#000" stroke-width="1.1"/>
<circle cx="479.30" cy="661.40" r="3.45" fill="#fff" stroke="#000" stroke-width="1.1"/>
<circle cx="485.60" cy="659.10" r="3.45" fill="#fff" stroke="#000" stroke-width="1.1"/>
<circle cx="479.30" cy="682.60" r="3.45" fill="#fff" stroke="#000" stroke-width="1.1"/>
<circle cx="479.30" cy="703.80" r="3.45" fill="#fff" stroke="#000" stroke-width="1.1"/>
<circle cx="531.70" cy="547.20" r="3.45" fill="#fff" stroke="#000" stroke-width="1.1"/>
<circle cx="525.40" cy="583.00" r="3.45" fill="#fff" stroke="#000" stroke-width="1.1"/>
<circle cx="531.60" cy="586.90" r="3.45" fill="#fff" stroke="#000" stroke-width="1.1"/>
<circle cx="531.60" cy="600.00" r="3.45" fill="#fff" stroke="#000" stroke-width="1.1"/>
<circle cx="531.60" cy="617.60" r="3.45" fill="#fff" stroke="#000" stroke-width="1.1"/>
<circle cx="563.90" cy="600.00" r="3.45" fill="#fff" stroke="#000" stroke-width="1.1"/>
<circle cx="563.90" cy="617.60" r="3.45" fill="#fff" stroke="#000" stroke-width="1.1"/>
<circle cx="563.90" cy="625.40" r="3.45" fill="#fff" stroke="#000" stroke-width="1.1"/>
<circle cx="595.20" cy="684.40" r="3.45" fill="#fff" stroke="#000" stroke-width="1.1"/>
<circle cx="595.20" cy="693.00" r="3.45" fill="#fff" stroke="#000" stroke-width="1.1"/>
<circle cx="595.20" cy="703.30" r="3.45" fill="#fff" stroke="#000" stroke-width="1.1"/>
<circle cx="627.50" cy="654.40" r="3.45" fill="#fff" stroke="#000" stroke-width="1.1"/>
<circle cx="627.50" cy="690.60" r="3.45" fill="#fff" stroke="#000" stroke-width="1.1"/>
<circle cx="627.50" cy="703.30" r="3.45" fill="#fff" stroke="#000" stroke-width="1.1"/>
<line x1="87.40" y1="587.38" x2="87.40" y2="575.40" stroke="#111" stroke-width="0.9" />
<line x1="82.80" y1="575.40" x2="92.00" y2="575.40" stroke="#111" stroke-width="0.9" />
<line x1="119.30" y1="618.00" x2="119.30" y2="614.50" stroke="#111" stroke-width="0.9" />
<line x1="114.70" y1="614.50" x2="123.90" y2="614.50" stroke="#111" stroke-width="0.9" />
<line x1="151.10" y1="655.59" x2="151.10" y2="650.50" stroke="#111" stroke-width="0.9" />
<line x1="146.50" y1="650.50" x2="155.70" y2="650.50" stroke="#111" stroke-width="0.9" />
<line x1="183.00" y1="694.59" x2="183.00" y2="689.50" stroke="#111" stroke-width="0.9" />
<line x1="178.40" y1="689.50" x2="187.60" y2="689.50" stroke="#111" stroke-width="0.9" />
<line x1="235.65" y1="587.38" x2="235.65" y2="583.40" stroke="#111" stroke-width="0.9" />
<line x1="231.05" y1="583.40" x2="240.25" y2="583.40" stroke="#111" stroke-width="0.9" />
<line x1="267.55" y1="577.72" x2="267.55" y2="574.50" stroke="#111" stroke-width="0.9" />
<line x1="262.95" y1="574.50" x2="272.15" y2="574.50" stroke="#111" stroke-width="0.9" />
<line x1="299.35" y1="645.23" x2="299.35" y2="636.90" stroke="#111" stroke-width="0.9" />
<line x1="294.75" y1="636.90" x2="303.95" y2="636.90" stroke="#111" stroke-width="0.9" />
<line x1="331.25" y1="691.33" x2="331.25" y2="684.40" stroke="#111" stroke-width="0.9" />
<line x1="326.65" y1="684.40" x2="335.85" y2="684.40" stroke="#111" stroke-width="0.9" />
<line x1="383.75" y1="587.38" x2="383.75" y2="576.10" stroke="#111" stroke-width="0.9" />
<line x1="379.15" y1="576.10" x2="388.35" y2="576.10" stroke="#111" stroke-width="0.9" />
<line x1="415.65" y1="647.44" x2="415.65" y2="638.80" stroke="#111" stroke-width="0.9" />
<line x1="411.05" y1="638.80" x2="420.25" y2="638.80" stroke="#111" stroke-width="0.9" />
<line x1="447.45" y1="681.43" x2="447.45" y2="677.30" stroke="#111" stroke-width="0.9" />
<line x1="442.85" y1="677.30" x2="452.05" y2="677.30" stroke="#111" stroke-width="0.9" />
<line x1="479.35" y1="676.78" x2="479.35" y2="665.70" stroke="#111" stroke-width="0.9" />
<line x1="474.75" y1="665.70" x2="483.95" y2="665.70" stroke="#111" stroke-width="0.9" />
<line x1="531.80" y1="587.38" x2="531.80" y2="575.40" stroke="#111" stroke-width="0.9" />
<line x1="527.20" y1="575.40" x2="536.40" y2="575.40" stroke="#111" stroke-width="0.9" />
<line x1="563.70" y1="615.32" x2="563.70" y2="606.50" stroke="#111" stroke-width="0.9" />
<line x1="559.10" y1="606.50" x2="568.30" y2="606.50" stroke="#111" stroke-width="0.9" />
<line x1="595.50" y1="694.12" x2="595.50" y2="688.30" stroke="#111" stroke-width="0.9" />
<line x1="590.90" y1="688.30" x2="600.10" y2="688.30" stroke="#111" stroke-width="0.9" />
<line x1="627.40" y1="683.30" x2="627.40" y2="668.30" stroke="#111" stroke-width="0.9" />
<line x1="622.80" y1="668.30" x2="632.00" y2="668.30" stroke="#111" stroke-width="0.9" />
<text x="88.40" y="719.00" font-size="11.0" text-anchor="middle" fill="#fff" fill-opacity="0.95" stroke="#fff" stroke-width="0.3" stroke-opacity="0.6">(3)</text>
<text x="120.30" y="719.00" font-size="11.0" text-anchor="middle" fill="#fff" fill-opacity="0.95" stroke="#fff" stroke-width="0.3" stroke-opacity="0.6">(3)</text>
<text x="152.10" y="719.00" font-size="11.0" text-anchor="middle" fill="#fff" fill-opacity="0.95" stroke="#fff" stroke-width="0.3" stroke-opacity="0.6">(4)</text>
<text x="184.00" y="719.00" font-size="11.0" text-anchor="middle" fill="#fff" fill-opacity="0.95" stroke="#fff" stroke-width="0.3" stroke-opacity="0.6">(3)</text>
<text x="236.65" y="719.00" font-size="11.0" text-anchor="middle" fill="#fff" fill-opacity="0.95" stroke="#fff" stroke-width="0.3" stroke-opacity="0.6">(5)</text>
<text x="268.55" y="719.00" font-size="11.0" text-anchor="middle" fill="#fff" fill-opacity="0.95" stroke="#fff" stroke-width="0.3" stroke-opacity="0.6">(3)</text>
<text x="300.35" y="719.00" font-size="11.0" text-anchor="middle" fill="#fff" fill-opacity="0.95" stroke="#fff" stroke-width="0.3" stroke-opacity="0.6">(3)</text>
<text x="332.25" y="719.00" font-size="11.0" text-anchor="middle" fill="#fff" fill-opacity="0.95" stroke="#fff" stroke-width="0.3" stroke-opacity="0.6">(3)</text>
<text x="384.75" y="719.00" font-size="11.0" text-anchor="middle" fill="#fff" fill-opacity="0.95" stroke="#fff" stroke-width="0.3" stroke-opacity="0.6">(4)</text>
<text x="416.65" y="719.00" font-size="11.0" text-anchor="middle" fill="#fff" fill-opacity="0.95" stroke="#fff" stroke-width="0.3" stroke-opacity="0.6">(3)</text>
<text x="448.45" y="719.00" font-size="11.0" text-anchor="middle" fill="#fff" fill-opacity="0.95" stroke="#fff" stroke-width="0.3" stroke-opacity="0.6">(3)</text>
<text x="480.35" y="719.00" font-size="11.0" text-anchor="middle" fill="#fff" fill-opacity="0.95" stroke="#fff" stroke-width="0.3" stroke-opacity="0.6">(4)</text>
<text x="532.80" y="719.00" font-size="11.0" text-anchor="middle" fill="#fff" fill-opacity="0.95" stroke="#fff" stroke-width="0.3" stroke-opacity="0.6">(5)</text>
<text x="564.70" y="719.00" font-size="11.0" text-anchor="middle" fill="#fff" fill-opacity="0.95" stroke="#fff" stroke-width="0.3" stroke-opacity="0.6">(3)</text>
<text x="596.50" y="719.00" font-size="11.0" text-anchor="middle" fill="#fff" fill-opacity="0.95" stroke="#fff" stroke-width="0.3" stroke-opacity="0.6">(3)</text>
<text x="628.40" y="719.00" font-size="11.0" text-anchor="middle" fill="#fff" fill-opacity="0.95" stroke="#fff" stroke-width="0.3" stroke-opacity="0.6">(3)</text>
<line x1="87.20" y1="531.30" x2="192.80" y2="531.30" stroke="#8a8a8a" stroke-width="1.1" />
<text x="106.60" y="528.40" font-size="12.8" text-anchor="start" fill="#111"  stroke="#111" stroke-width="0.25">p &lt; 0.001</text>
<line x1="87.20" y1="548.00" x2="161.60" y2="548.00" stroke="#8a8a8a" stroke-width="1.1" />
<text x="91.10" y="544.70" font-size="12.8" text-anchor="start" fill="#111"  stroke="#111" stroke-width="0.25">p &lt; 0.001</text>
<line x1="87.20" y1="563.50" x2="121.70" y2="563.50" stroke="#8a8a8a" stroke-width="1.1" />
<text x="76.80" y="562.10" font-size="12.8" text-anchor="start" fill="#111"  stroke="#111" stroke-width="0.25">p = 0.008</text>
<line x1="237.60" y1="531.60" x2="342.30" y2="531.60" stroke="#8a8a8a" stroke-width="1.1" />
<text x="256.60" y="527.80" font-size="12.8" text-anchor="start" fill="#111"  stroke="#111" stroke-width="0.25">p &lt; 0.001</text>
<line x1="237.60" y1="547.60" x2="311.30" y2="547.60" stroke="#8a8a8a" stroke-width="1.1" />
<text x="241.20" y="544.30" font-size="12.8" text-anchor="start" fill="#111"  stroke="#111" stroke-width="0.25">p &lt; 0.001</text>
<line x1="237.60" y1="563.10" x2="271.20" y2="563.10" stroke="#8a8a8a" stroke-width="1.1" />
<text x="226.30" y="561.30" font-size="12.8" text-anchor="start" fill="#111"  stroke="#111" stroke-width="0.25">p = 0.368</text>
<line x1="384.10" y1="531.30" x2="489.80" y2="531.30" stroke="#8a8a8a" stroke-width="1.1" />
<text x="403.50" y="528.00" font-size="12.8" text-anchor="start" fill="#111"  stroke="#111" stroke-width="0.25">p &lt; 0.001</text>
<line x1="384.10" y1="548.00" x2="459.10" y2="548.00" stroke="#8a8a8a" stroke-width="1.1" />
<text x="388.60" y="544.30" font-size="12.8" text-anchor="start" fill="#111"  stroke="#111" stroke-width="0.25">p &lt; 0.001</text>
<line x1="384.10" y1="563.10" x2="419.30" y2="563.10" stroke="#8a8a8a" stroke-width="1.1" />
<text x="373.90" y="561.50" font-size="12.8" text-anchor="start" fill="#111"  stroke="#111" stroke-width="0.25">p = 0.003</text>
<line x1="536.80" y1="531.20" x2="642.90" y2="531.20" stroke="#8a8a8a" stroke-width="1.1" />
<text x="556.00" y="527.90" font-size="12.8" text-anchor="start" fill="#111"  stroke="#111" stroke-width="0.25">p &lt; 0.001</text>
<line x1="536.80" y1="548.30" x2="611.70" y2="548.30" stroke="#8a8a8a" stroke-width="1.1" />
<text x="541.20" y="544.50" font-size="12.8" text-anchor="start" fill="#111"  stroke="#111" stroke-width="0.25">p &lt; 0.001</text>
<line x1="531.70" y1="563.10" x2="572.10" y2="563.10" stroke="#8a8a8a" stroke-width="1.1" />
<text x="520.70" y="560.60" font-size="12.8" text-anchor="start" fill="#111"  stroke="#111" stroke-width="0.25">p = 0.257</text>
<rect x="653.0" y="533.0" width="23.3" height="3.2" fill="#0000ff" stroke="#000" stroke-width="1"/><rect x="653.0" y="533.0" width="23.3" height="3.2" fill="url(#pw4)"/>
<rect x="653.0" y="558.6" width="23.3" height="3.2" fill="#111" stroke="#000" stroke-width="1"/><rect x="653.0" y="558.6" width="23.3" height="3.2" fill="url(#pg4)"/>
<rect x="653.0" y="584.8" width="23.3" height="3.2" fill="#d070c0" stroke="#000" stroke-width="1"/><rect x="653.0" y="584.8" width="23.3" height="3.2" fill="url(#pk4)"/>
<rect x="653.0" y="610.8" width="23.3" height="3.2" fill="#10b040" stroke="#000" stroke-width="1"/><rect x="653.0" y="610.8" width="23.3" height="3.2" fill="url(#pk4)"/>
<text x="680.60" y="548.10" font-size="11.2" text-anchor="end" fill="#2828f5"  stroke="#2828f5" stroke-width="0.25">pdP2X7</text>
<text x="680.60" y="574.30" font-size="11.2" text-anchor="end" fill="#111"  stroke="#111" stroke-width="0.25">hP2X7</text>
<text x="680.60" y="601.10" font-size="11.2" text-anchor="end" fill="#d865bd"  stroke="#d865bd" stroke-width="0.25">mP2X7</text>
<text x="680.60" y="628.00" font-size="11.2" text-anchor="end" fill="#22ad5c"  stroke="#22ad5c" stroke-width="0.25">rP2X7</text>
<line x1="71.70" y1="4.90" x2="84.50" y2="6.10" stroke="#1e1e1e" stroke-width="1.05" stroke-linecap="round"/>
<line x1="84.50" y1="6.10" x2="90.10" y2="18.70" stroke="#1e1e1e" stroke-width="1.05" stroke-linecap="round"/>
<line x1="90.10" y1="18.70" x2="82.00" y2="28.60" stroke="#1e1e1e" stroke-width="1.05" stroke-linecap="round"/>
<line x1="82.00" y1="28.60" x2="68.20" y2="27.40" stroke="#1e1e1e" stroke-width="1.05" stroke-linecap="round"/>
<line x1="68.20" y1="27.40" x2="63.30" y2="15.20" stroke="#1e1e1e" stroke-width="1.05" stroke-linecap="round"/>
<line x1="63.30" y1="15.20" x2="71.70" y2="4.90" stroke="#1e1e1e" stroke-width="1.05" stroke-linecap="round"/>
<line x1="83.41" y1="9.30" x2="86.99" y2="17.37" stroke="#1e1e1e" stroke-width="1.05" stroke-linecap="round"/>
<line x1="79.72" y1="26.09" x2="70.88" y2="25.32" stroke="#1e1e1e" stroke-width="1.05" stroke-linecap="round"/>
<line x1="66.59" y1="14.80" x2="71.97" y2="8.21" stroke="#1e1e1e" stroke-width="1.05" stroke-linecap="round"/>
<line x1="90.10" y1="18.70" x2="102.60" y2="20.10" stroke="#1e1e1e" stroke-width="1.05" stroke-linecap="round"/>
<line x1="102.60" y1="20.10" x2="109.00" y2="31.80" stroke="#1e1e1e" stroke-width="1.05" stroke-linecap="round"/>
<line x1="109.00" y1="31.80" x2="118.00" y2="32.20" stroke="#1e1e1e" stroke-width="1.05" stroke-linecap="round"/>
<text x="121.80" y="36.91" font-size="9.2" text-anchor="middle" fill="#1e1e1e" stroke="#1e1e1e" stroke-width="0.2">N</text>
<line x1="82.00" y1="28.60" x2="85.20" y2="36.40" stroke="#1e1e1e" stroke-width="1.05" stroke-linecap="round"/>
<text x="87.40" y="44.61" font-size="9.2" text-anchor="middle" fill="#1e1e1e" stroke="#1e1e1e" stroke-width="0.2">O</text>
<line x1="85.00" y1="45.60" x2="79.90" y2="52.60" stroke="#1e1e1e" stroke-width="1.05" stroke-linecap="round"/>
<line x1="124.30" y1="28.80" x2="129.60" y2="21.80" stroke="#1e1e1e" stroke-width="1.05" stroke-linecap="round"/>
<line x1="129.60" y1="21.80" x2="138.20" y2="21.80" stroke="#1e1e1e" stroke-width="1.05" stroke-linecap="round"/>
<text x="146.60" y="27.51" font-size="9.2" text-anchor="middle" fill="#1e1e1e" stroke="#1e1e1e" stroke-width="0.2">NH</text>
<line x1="146.00" y1="28.50" x2="149.10" y2="36.80" stroke="#1e1e1e" stroke-width="1.05" stroke-linecap="round"/>
<line x1="124.00" y1="38.60" x2="127.60" y2="45.20" stroke="#1e1e1e" stroke-width="1.05" stroke-linecap="round"/>
<line x1="127.60" y1="45.20" x2="142.20" y2="46.00" stroke="#1e1e1e" stroke-width="1.05" stroke-linecap="round"/>
<line x1="149.10" y1="36.80" x2="142.20" y2="46.00" stroke="#1e1e1e" stroke-width="1.05" stroke-linecap="round"/>
<line x1="150.03" y1="39.22" x2="144.79" y2="46.22" stroke="#1e1e1e" stroke-width="1.05" stroke-linecap="round"/>
<line x1="149.10" y1="36.80" x2="157.20" y2="37.40" stroke="#1e1e1e" stroke-width="1.05" stroke-linecap="round"/>
<text x="160.60" y="40.91" font-size="9.2" text-anchor="middle" fill="#1e1e1e" stroke="#1e1e1e" stroke-width="0.2">N</text>
<line x1="163.40" y1="33.60" x2="169.00" y2="28.40" stroke="#1e1e1e" stroke-width="1.05" stroke-linecap="round"/>
<line x1="162.60" y1="41.80" x2="165.20" y2="48.30" stroke="#1e1e1e" stroke-width="1.05" stroke-linecap="round"/>
<line x1="164.96" y1="49.37" x2="175.36" y2="51.67" stroke="#1e1e1e" stroke-width="1.05" stroke-linecap="round"/>
<line x1="165.44" y1="47.23" x2="175.84" y2="49.53" stroke="#1e1e1e" stroke-width="1.05" stroke-linecap="round"/>
<text x="179.80" y="54.61" font-size="9.2" text-anchor="middle" fill="#1e1e1e" stroke="#1e1e1e" stroke-width="0.2">O</text>
<line x1="165.20" y1="48.30" x2="164.60" y2="55.60" stroke="#1e1e1e" stroke-width="1.05" stroke-linecap="round"/>
<text x="164.00" y="63.61" font-size="9.2" text-anchor="middle" fill="#1e1e1e" stroke="#1e1e1e" stroke-width="0.2">NH</text>
<line x1="157.60" y1="59.80" x2="147.60" y2="59.00" stroke="#1e1e1e" stroke-width="1.05" stroke-linecap="round"/>
<line x1="147.60" y1="59.00" x2="142.20" y2="46.00" stroke="#1e1e1e" stroke-width="1.05" stroke-linecap="round"/>
<line x1="146.75" y1="58.30" x2="140.45" y2="65.90" stroke="#1e1e1e" stroke-width="1.05" stroke-linecap="round"/>
<line x1="148.45" y1="59.70" x2="142.15" y2="67.30" stroke="#1e1e1e" stroke-width="1.05" stroke-linecap="round"/>
<text x="139.40" y="73.01" font-size="9.2" text-anchor="middle" fill="#1e1e1e" stroke="#1e1e1e" stroke-width="0.2">O</text>
<line x1="169.00" y1="28.40" x2="163.60" y2="14.60" stroke="#1e1e1e" stroke-width="1.05" stroke-linecap="round"/>
<line x1="163.60" y1="14.60" x2="171.30" y2="3.40" stroke="#1e1e1e" stroke-width="1.05" stroke-linecap="round"/>
<line x1="171.30" y1="3.40" x2="185.90" y2="6.10" stroke="#1e1e1e" stroke-width="1.05" stroke-linecap="round"/>
<line x1="185.90" y1="6.10" x2="190.50" y2="17.60" stroke="#1e1e1e" stroke-width="1.05" stroke-linecap="round"/>
<line x1="190.50" y1="17.60" x2="182.80" y2="27.60" stroke="#1e1e1e" stroke-width="1.05" stroke-linecap="round"/>
<line x1="182.80" y1="27.60" x2="169.00" y2="28.40" stroke="#1e1e1e" stroke-width="1.05" stroke-linecap="round"/>
<line x1="166.88" y1="13.89" x2="171.81" y2="6.72" stroke="#1e1e1e" stroke-width="1.05" stroke-linecap="round"/>
<line x1="184.59" y1="9.02" x2="187.54" y2="16.38" stroke="#1e1e1e" stroke-width="1.05" stroke-linecap="round"/>
<line x1="180.18" y1="25.45" x2="171.35" y2="25.96" stroke="#1e1e1e" stroke-width="1.05" stroke-linecap="round"/>
<line x1="190.50" y1="17.60" x2="198.40" y2="18.40" stroke="#1e1e1e" stroke-width="1.05" stroke-linecap="round"/>
<text x="204.60" y="21.21" font-size="9.2" text-anchor="middle" fill="#1e1e1e" stroke="#1e1e1e" stroke-width="0.2">Cl</text>
<line x1="182.80" y1="27.60" x2="188.20" y2="40.20" stroke="#1e1e1e" stroke-width="1.05" stroke-linecap="round"/>
<line x1="171.30" y1="277.90" x2="179.10" y2="288.90" stroke="#1e1e1e" stroke-width="1.05" stroke-linecap="round"/>
<line x1="179.10" y1="288.90" x2="191.40" y2="288.60" stroke="#1e1e1e" stroke-width="1.05" stroke-linecap="round"/>
<line x1="191.40" y1="288.60" x2="198.60" y2="276.10" stroke="#1e1e1e" stroke-width="1.05" stroke-linecap="round"/>
<line x1="199.49" y1="275.46" x2="194.09" y2="267.96" stroke="#1e1e1e" stroke-width="1.05" stroke-linecap="round"/>
<line x1="197.71" y1="276.74" x2="192.31" y2="269.24" stroke="#1e1e1e" stroke-width="1.05" stroke-linecap="round"/>
<text x="190.40" y="268.91" font-size="9.2" text-anchor="middle" fill="#1e1e1e" stroke="#1e1e1e" stroke-width="0.2">O</text>
<line x1="198.60" y1="276.10" x2="207.20" y2="275.50" stroke="#1e1e1e" stroke-width="1.05" stroke-linecap="round"/>
<text x="214.10" y="278.71" font-size="9.2" text-anchor="middle" fill="#1e1e1e" stroke="#1e1e1e" stroke-width="0.2">NH</text>
<line x1="219.40" y1="286.00" x2="232.80" y2="285.40" stroke="#1e1e1e" stroke-width="1.05" stroke-linecap="round"/>
<line x1="232.80" y1="285.40" x2="239.20" y2="296.60" stroke="#1e1e1e" stroke-width="1.05" stroke-linecap="round"/>
<line x1="239.20" y1="296.60" x2="232.80" y2="308.20" stroke="#1e1e1e" stroke-width="1.05" stroke-linecap="round"/>
<line x1="232.80" y1="308.20" x2="220.00" y2="308.80" stroke="#1e1e1e" stroke-width="1.05" stroke-linecap="round"/>
<line x1="220.00" y1="308.80" x2="213.00" y2="298.30" stroke="#1e1e1e" stroke-width="1.05" stroke-linecap="round"/>
<line x1="213.00" y1="298.30" x2="219.40" y2="286.00" stroke="#1e1e1e" stroke-width="1.05" stroke-linecap="round"/>
<line x1="231.96" y1="288.56" x2="236.05" y2="295.73" stroke="#1e1e1e" stroke-width="1.05" stroke-linecap="round"/>
<line x1="230.39" y1="306.01" x2="222.20" y2="306.39" stroke="#1e1e1e" stroke-width="1.05" stroke-linecap="round"/>
<line x1="216.19" y1="297.15" x2="220.29" y2="289.28" stroke="#1e1e1e" stroke-width="1.05" stroke-linecap="round"/>
<line x1="215.30" y1="279.80" x2="219.40" y2="286.00" stroke="#1e1e1e" stroke-width="1.05" stroke-linecap="round"/>
<line x1="191.40" y1="288.60" x2="196.20" y2="296.20" stroke="#1e1e1e" stroke-width="1.05" stroke-linecap="round"/>
<text x="199.30" y="303.11" font-size="9.2" text-anchor="middle" fill="#1e1e1e" stroke="#1e1e1e" stroke-width="0.2">S</text>
<line x1="203.00" y1="299.00" x2="213.00" y2="298.30" stroke="#1e1e1e" stroke-width="1.05" stroke-linecap="round"/>
<line x1="239.20" y1="296.60" x2="248.20" y2="296.20" stroke="#1e1e1e" stroke-width="1.05" stroke-linecap="round"/>
<text x="253.20" y="299.51" font-size="9.2" text-anchor="middle" fill="#1e1e1e" stroke="#1e1e1e" stroke-width="0.2">S</text>
<line x1="251.55" y1="286.60" x2="251.55" y2="292.00" stroke="#1e1e1e" stroke-width="1.05" stroke-linecap="round"/>
<line x1="253.65" y1="286.60" x2="253.65" y2="292.00" stroke="#1e1e1e" stroke-width="1.05" stroke-linecap="round"/>
<text x="252.50" y="286.31" font-size="9.2" text-anchor="middle" fill="#1e1e1e" stroke="#1e1e1e" stroke-width="0.2">O</text>
<line x1="251.75" y1="300.20" x2="251.75" y2="306.00" stroke="#1e1e1e" stroke-width="1.05" stroke-linecap="round"/>
<line x1="253.85" y1="300.20" x2="253.85" y2="306.00" stroke="#1e1e1e" stroke-width="1.05" stroke-linecap="round"/>
<text x="253.30" y="312.91" font-size="9.2" text-anchor="middle" fill="#1e1e1e" stroke="#1e1e1e" stroke-width="0.2">O</text>
<line x1="257.60" y1="294.60" x2="266.90" y2="294.30" stroke="#1e1e1e" stroke-width="1.05" stroke-linecap="round"/>
<line x1="266.90" y1="294.30" x2="274.90" y2="305.70" stroke="#1e1e1e" stroke-width="1.05" stroke-linecap="round"/>
<line x1="274.90" y1="305.70" x2="287.30" y2="304.90" stroke="#1e1e1e" stroke-width="1.05" stroke-linecap="round"/>
<line x1="288.27" y1="305.42" x2="292.17" y2="298.12" stroke="#1e1e1e" stroke-width="1.05" stroke-linecap="round"/>
<line x1="286.33" y1="304.38" x2="290.23" y2="297.08" stroke="#1e1e1e" stroke-width="1.05" stroke-linecap="round"/>
<text x="293.20" y="297.01" font-size="9.2" text-anchor="middle" fill="#1e1e1e" stroke="#1e1e1e" stroke-width="0.2">O</text>
<line x1="287.30" y1="304.90" x2="290.60" y2="311.60" stroke="#1e1e1e" stroke-width="1.05" stroke-linecap="round"/>
<text x="291.00" y="319.51" font-size="9.2" text-anchor="middle" fill="#1e1e1e" stroke="#1e1e1e" stroke-width="0.2">HN</text>
<line x1="297.60" y1="315.50" x2="308.30" y2="315.20" stroke="#1e1e1e" stroke-width="1.05" stroke-linecap="round"/>
<line x1="312.40" y1="280.20" x2="326.20" y2="279.10" stroke="#1e1e1e" stroke-width="1.05" stroke-linecap="round"/>
<line x1="326.20" y1="279.10" x2="334.00" y2="290.30" stroke="#1e1e1e" stroke-width="1.05" stroke-linecap="round"/>
<line x1="334.00" y1="290.30" x2="328.10" y2="302.60" stroke="#1e1e1e" stroke-width="1.05" stroke-linecap="round"/>
<line x1="328.10" y1="302.60" x2="314.30" y2="303.30" stroke="#1e1e1e" stroke-width="1.05" stroke-linecap="round"/>
<line x1="314.30" y1="303.30" x2="306.60" y2="292.30" stroke="#1e1e1e" stroke-width="1.05" stroke-linecap="round"/>
<line x1="306.60" y1="292.30" x2="312.40" y2="280.20" stroke="#1e1e1e" stroke-width="1.05" stroke-linecap="round"/>
<line x1="309.72" y1="291.12" x2="313.43" y2="283.37" stroke="#1e1e1e" stroke-width="1.05" stroke-linecap="round"/>
<line x1="325.72" y1="282.43" x2="330.71" y2="289.60" stroke="#1e1e1e" stroke-width="1.05" stroke-linecap="round"/>
<line x1="314.30" y1="303.30" x2="328.10" y2="302.60" stroke="#1e1e1e" stroke-width="1.05" stroke-linecap="round"/>
<line x1="328.10" y1="302.60" x2="335.50" y2="313.40" stroke="#1e1e1e" stroke-width="1.05" stroke-linecap="round"/>
<line x1="335.50" y1="313.40" x2="329.60" y2="325.30" stroke="#1e1e1e" stroke-width="1.05" stroke-linecap="round"/>
<line x1="329.60" y1="325.30" x2="315.80" y2="326.40" stroke="#1e1e1e" stroke-width="1.05" stroke-linecap="round"/>
<line x1="315.80" y1="326.40" x2="308.30" y2="315.20" stroke="#1e1e1e" stroke-width="1.05" stroke-linecap="round"/>
<line x1="308.30" y1="315.20" x2="314.30" y2="303.30" stroke="#1e1e1e" stroke-width="1.05" stroke-linecap="round"/>
<line x1="316.90" y1="305.47" x2="325.73" y2="305.02" stroke="#1e1e1e" stroke-width="1.05" stroke-linecap="round"/>
<line x1="332.38" y1="314.52" x2="328.60" y2="322.14" stroke="#1e1e1e" stroke-width="1.05" stroke-linecap="round"/>
<line x1="316.36" y1="323.10" x2="311.56" y2="315.94" stroke="#1e1e1e" stroke-width="1.05" stroke-linecap="round"/>
</svg>
</body></html>
